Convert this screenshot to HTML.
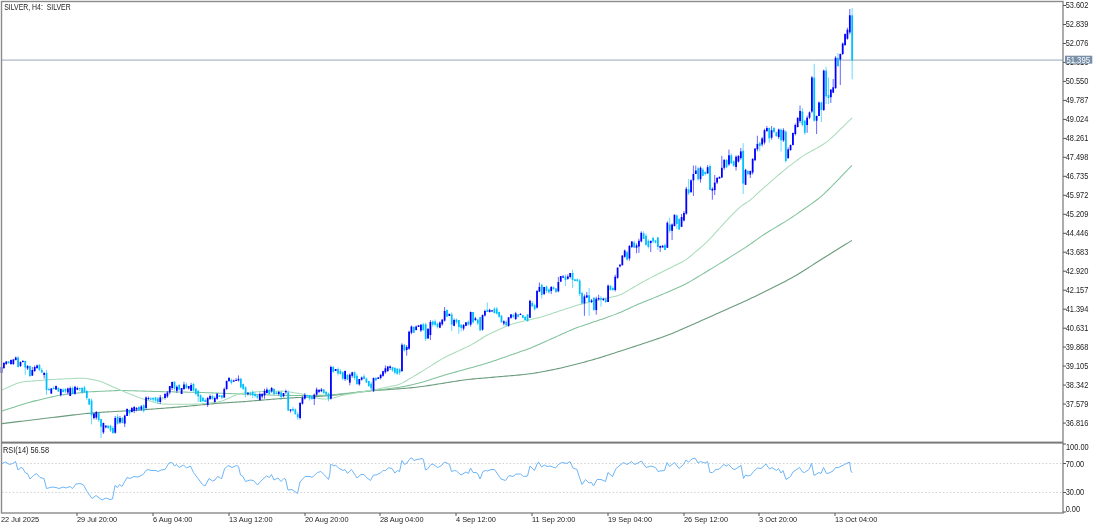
<!DOCTYPE html>
<html><head><meta charset="utf-8"><style>
html,body{margin:0;padding:0;background:#fff;width:1100px;height:527px;overflow:hidden}
svg{display:block;will-change:transform}
text{font-family:"Liberation Sans",sans-serif;font-size:8.3px;letter-spacing:0;fill:#222}
</style></head><body>
<svg width="1100" height="527" viewBox="0 0 1100 527">
<rect width="1100" height="527" fill="#fff"/>
<!-- price line -->
<rect x="2" y="59.5" width="1061" height="1.2" fill="#aab6c4"/>
<!-- MAs -->
<polyline points="2.0,423.60 4.0,423.36 6.0,423.12 8.0,422.87 10.0,422.63 12.0,422.39 14.0,422.15 16.0,421.91 18.0,421.66 20.0,421.42 22.0,421.18 24.0,420.94 26.0,420.69 28.0,420.45 30.0,420.21 32.0,419.97 34.0,419.73 36.0,419.49 38.0,419.24 40.0,419.00 42.0,418.76 44.0,418.52 46.0,418.28 48.0,418.04 50.0,417.80 52.0,417.56 54.0,417.32 56.0,417.08 58.0,416.84 60.0,416.60 62.0,416.36 64.0,416.12 66.0,415.88 68.0,415.64 70.0,415.40 72.0,415.16 74.0,414.92 76.0,414.69 78.0,414.45 80.0,414.22 82.0,414.00 84.0,413.78 86.0,413.57 88.0,413.38 90.0,413.19 92.0,413.02 94.0,412.85 96.0,412.70 98.0,412.56 100.0,412.42 102.0,412.29 104.0,412.17 106.0,412.04 108.0,411.92 110.0,411.80 112.0,411.68 114.0,411.56 116.0,411.44 118.0,411.32 120.0,411.20 122.0,411.08 124.0,410.96 126.0,410.84 128.0,410.72 130.0,410.59 132.0,410.47 134.0,410.34 136.0,410.22 138.0,410.09 140.0,409.95 142.0,409.82 144.0,409.68 146.0,409.53 148.0,409.39 150.0,409.24 152.0,409.10 154.0,408.95 156.0,408.80 158.0,408.65 160.0,408.50 162.0,408.35 164.0,408.20 166.0,408.05 168.0,407.89 170.0,407.74 172.0,407.58 174.0,407.42 176.0,407.26 178.0,407.09 180.0,406.92 182.0,406.74 184.0,406.56 186.0,406.37 188.0,406.18 190.0,405.99 192.0,405.79 194.0,405.60 196.0,405.40 198.0,405.20 200.0,405.00 202.0,404.80 204.0,404.60 206.0,404.41 208.0,404.21 210.0,404.02 212.0,403.83 214.0,403.65 216.0,403.48 218.0,403.31 220.0,403.16 222.0,403.01 224.0,402.88 226.0,402.75 228.0,402.62 230.0,402.51 232.0,402.39 234.0,402.27 236.0,402.15 238.0,402.02 240.0,401.89 242.0,401.75 244.0,401.61 246.0,401.46 248.0,401.30 250.0,401.14 252.0,400.97 254.0,400.81 256.0,400.64 258.0,400.47 260.0,400.30 262.0,400.13 264.0,399.96 266.0,399.79 268.0,399.63 270.0,399.46 272.0,399.29 274.0,399.13 276.0,398.97 278.0,398.81 280.0,398.66 282.0,398.51 284.0,398.37 286.0,398.24 288.0,398.11 290.0,397.99 292.0,397.87 294.0,397.76 296.0,397.65 298.0,397.54 300.0,397.43 302.0,397.33 304.0,397.22 306.0,397.11 308.0,397.01 310.0,396.90 312.0,396.79 314.0,396.68 316.0,396.56 318.0,396.44 320.0,396.32 322.0,396.18 324.0,396.03 326.0,395.87 328.0,395.70 330.0,395.51 332.0,395.31 334.0,395.10 336.0,394.88 338.0,394.66 340.0,394.42 342.0,394.19 344.0,393.95 346.0,393.71 348.0,393.47 350.0,393.23 352.0,392.99 354.0,392.75 356.0,392.51 358.0,392.27 360.0,392.04 362.0,391.81 364.0,391.59 366.0,391.37 368.0,391.17 370.0,390.97 372.0,390.78 374.0,390.61 376.0,390.44 378.0,390.29 380.0,390.14 382.0,389.99 384.0,389.86 386.0,389.72 388.0,389.58 390.0,389.45 392.0,389.31 394.0,389.17 396.0,389.02 398.0,388.88 400.0,388.72 402.0,388.56 404.0,388.40 406.0,388.23 408.0,388.05 410.0,387.86 412.0,387.67 414.0,387.46 416.0,387.25 418.0,387.01 420.0,386.77 422.0,386.51 424.0,386.24 426.0,385.95 428.0,385.65 430.0,385.35 432.0,385.03 434.0,384.71 436.0,384.39 438.0,384.07 440.0,383.75 442.0,383.42 444.0,383.10 446.0,382.77 448.0,382.45 450.0,382.13 452.0,381.81 454.0,381.49 456.0,381.18 458.0,380.88 460.0,380.58 462.0,380.30 464.0,380.04 466.0,379.78 468.0,379.55 470.0,379.32 472.0,379.12 474.0,378.92 476.0,378.73 478.0,378.55 480.0,378.37 482.0,378.19 484.0,378.02 486.0,377.85 488.0,377.68 490.0,377.51 492.0,377.33 494.0,377.16 496.0,376.99 498.0,376.82 500.0,376.65 502.0,376.48 504.0,376.31 506.0,376.14 508.0,375.97 510.0,375.79 512.0,375.62 514.0,375.45 516.0,375.27 518.0,375.09 520.0,374.91 522.0,374.71 524.0,374.51 526.0,374.29 528.0,374.05 530.0,373.79 532.0,373.51 534.0,373.20 536.0,372.88 538.0,372.54 540.0,372.18 542.0,371.81 544.0,371.43 546.0,371.04 548.0,370.65 550.0,370.26 552.0,369.86 554.0,369.45 556.0,369.04 558.0,368.62 560.0,368.19 562.0,367.75 564.0,367.29 566.0,366.82 568.0,366.33 570.0,365.84 572.0,365.33 574.0,364.82 576.0,364.29 578.0,363.77 580.0,363.24 582.0,362.71 584.0,362.17 586.0,361.63 588.0,361.09 590.0,360.53 592.0,359.97 594.0,359.40 596.0,358.81 598.0,358.22 600.0,357.61 602.0,356.99 604.0,356.36 606.0,355.73 608.0,355.09 610.0,354.44 612.0,353.80 614.0,353.15 616.0,352.50 618.0,351.85 620.0,351.20 622.0,350.55 624.0,349.90 626.0,349.25 628.0,348.60 630.0,347.95 632.0,347.29 634.0,346.64 636.0,345.98 638.0,345.32 640.0,344.66 642.0,344.00 644.0,343.34 646.0,342.67 648.0,342.00 650.0,341.33 652.0,340.65 654.0,339.98 656.0,339.30 658.0,338.62 660.0,337.92 662.0,337.22 664.0,336.51 666.0,335.78 668.0,335.03 670.0,334.26 672.0,333.46 674.0,332.65 676.0,331.82 678.0,330.97 680.0,330.11 682.0,329.24 684.0,328.36 686.0,327.47 688.0,326.59 690.0,325.70 692.0,324.81 694.0,323.92 696.0,323.03 698.0,322.14 700.0,321.25 702.0,320.36 704.0,319.47 706.0,318.58 708.0,317.68 710.0,316.79 712.0,315.90 714.0,315.01 716.0,314.12 718.0,313.23 720.0,312.33 722.0,311.44 724.0,310.55 726.0,309.66 728.0,308.76 730.0,307.87 732.0,306.98 734.0,306.08 736.0,305.19 738.0,304.29 740.0,303.39 742.0,302.49 744.0,301.58 746.0,300.66 748.0,299.74 750.0,298.80 752.0,297.86 754.0,296.90 756.0,295.93 758.0,294.96 760.0,293.97 762.0,292.98 764.0,291.99 766.0,291.00 768.0,290.00 770.0,289.00 772.0,288.00 774.0,287.00 776.0,286.00 778.0,284.99 780.0,283.99 782.0,282.97 784.0,281.95 786.0,280.91 788.0,279.86 790.0,278.79 792.0,277.69 794.0,276.56 796.0,275.40 798.0,274.21 800.0,273.00 802.0,271.76 804.0,270.50 806.0,269.22 808.0,267.94 810.0,266.65 812.0,265.36 814.0,264.07 816.0,262.78 818.0,261.50 820.0,260.23 822.0,258.96 824.0,257.70 826.0,256.45 828.0,255.20 830.0,253.96 832.0,252.72 834.0,251.48 836.0,250.25 838.0,249.02 840.0,247.79 842.0,246.55 844.0,245.32 846.0,244.09 848.0,242.86 850.0,241.63 852.0,240.40 852.0,240.40" fill="none" stroke="#6a9c7c" stroke-width="1.1"/>
<polyline points="2.0,411.00 4.0,410.36 6.0,409.71 8.0,409.07 10.0,408.43 12.0,407.79 14.0,407.14 16.0,406.50 18.0,405.86 20.0,405.22 22.0,404.58 24.0,403.95 26.0,403.34 28.0,402.74 30.0,402.17 32.0,401.63 34.0,401.12 36.0,400.62 38.0,400.14 40.0,399.67 42.0,399.20 44.0,398.73 46.0,398.27 48.0,397.80 50.0,397.34 52.0,396.88 54.0,396.43 56.0,396.00 58.0,395.60 60.0,395.23 62.0,394.90 64.0,394.61 66.0,394.34 68.0,394.09 70.0,393.85 72.0,393.62 74.0,393.39 76.0,393.16 78.0,392.93 80.0,392.71 82.0,392.50 84.0,392.31 86.0,392.13 88.0,391.98 90.0,391.85 92.0,391.74 94.0,391.63 96.0,391.53 98.0,391.44 100.0,391.34 102.0,391.25 104.0,391.15 106.0,391.06 108.0,390.97 110.0,390.87 112.0,390.78 114.0,390.70 116.0,390.63 118.0,390.58 120.0,390.55 122.0,390.55 124.0,390.57 126.0,390.60 128.0,390.65 130.0,390.70 132.0,390.76 134.0,390.82 136.0,390.88 138.0,390.94 140.0,391.00 142.0,391.06 144.0,391.12 146.0,391.18 148.0,391.24 150.0,391.30 152.0,391.36 154.0,391.42 156.0,391.47 158.0,391.53 160.0,391.58 162.0,391.63 164.0,391.67 166.0,391.72 168.0,391.76 170.0,391.80 172.0,391.84 174.0,391.88 176.0,391.92 178.0,391.96 180.0,392.00 182.0,392.04 184.0,392.08 186.0,392.12 188.0,392.16 190.0,392.20 192.0,392.24 194.0,392.29 196.0,392.33 198.0,392.38 200.0,392.44 202.0,392.50 204.0,392.57 206.0,392.65 208.0,392.72 210.0,392.80 212.0,392.88 214.0,392.96 216.0,393.04 218.0,393.12 220.0,393.20 222.0,393.28 224.0,393.36 226.0,393.44 228.0,393.52 230.0,393.60 232.0,393.68 234.0,393.76 236.0,393.84 238.0,393.91 240.0,393.98 242.0,394.06 244.0,394.12 246.0,394.19 248.0,394.26 250.0,394.32 252.0,394.39 254.0,394.45 256.0,394.51 258.0,394.58 260.0,394.64 262.0,394.71 264.0,394.77 266.0,394.83 268.0,394.90 270.0,394.96 272.0,395.03 274.0,395.09 276.0,395.15 278.0,395.21 280.0,395.26 282.0,395.31 284.0,395.34 286.0,395.37 288.0,395.38 290.0,395.39 292.0,395.40 294.0,395.40 296.0,395.40 298.0,395.40 300.0,395.40 302.0,395.40 304.0,395.40 306.0,395.40 308.0,395.40 310.0,395.40 312.0,395.40 314.0,395.40 316.0,395.40 318.0,395.39 320.0,395.38 322.0,395.36 324.0,395.31 326.0,395.24 328.0,395.13 330.0,394.99 332.0,394.82 334.0,394.63 336.0,394.43 338.0,394.22 340.0,394.01 342.0,393.80 344.0,393.58 346.0,393.37 348.0,393.16 350.0,392.94 352.0,392.73 354.0,392.52 356.0,392.30 358.0,392.09 360.0,391.87 362.0,391.66 364.0,391.45 366.0,391.23 368.0,391.01 370.0,390.80 372.0,390.58 374.0,390.35 376.0,390.13 378.0,389.90 380.0,389.68 382.0,389.45 384.0,389.22 386.0,388.99 388.0,388.76 390.0,388.53 392.0,388.30 394.0,388.05 396.0,387.79 398.0,387.51 400.0,387.19 402.0,386.84 404.0,386.46 406.0,386.05 408.0,385.63 410.0,385.19 412.0,384.75 414.0,384.29 416.0,383.82 418.0,383.32 420.0,382.79 422.0,382.23 424.0,381.63 426.0,381.01 428.0,380.38 430.0,379.73 432.0,379.08 434.0,378.43 436.0,377.79 438.0,377.14 440.0,376.51 442.0,375.89 444.0,375.28 446.0,374.69 448.0,374.11 450.0,373.54 452.0,372.98 454.0,372.43 456.0,371.87 458.0,371.32 460.0,370.77 462.0,370.21 464.0,369.66 466.0,369.11 468.0,368.55 470.0,368.00 472.0,367.45 474.0,366.89 476.0,366.34 478.0,365.78 480.0,365.22 482.0,364.65 484.0,364.07 486.0,363.47 488.0,362.84 490.0,362.20 492.0,361.53 494.0,360.85 496.0,360.17 498.0,359.47 500.0,358.78 502.0,358.08 504.0,357.39 506.0,356.69 508.0,356.00 510.0,355.30 512.0,354.61 514.0,353.91 516.0,353.22 518.0,352.52 520.0,351.82 522.0,351.12 524.0,350.42 526.0,349.70 528.0,348.96 530.0,348.19 532.0,347.40 534.0,346.57 536.0,345.71 538.0,344.84 540.0,343.95 542.0,343.05 544.0,342.16 546.0,341.26 548.0,340.36 550.0,339.46 552.0,338.56 554.0,337.66 556.0,336.76 558.0,335.86 560.0,334.96 562.0,334.06 564.0,333.17 566.0,332.28 568.0,331.39 570.0,330.52 572.0,329.68 574.0,328.86 576.0,328.08 578.0,327.34 580.0,326.62 582.0,325.93 584.0,325.24 586.0,324.57 588.0,323.89 590.0,323.22 592.0,322.55 594.0,321.87 596.0,321.20 598.0,320.53 600.0,319.85 602.0,319.17 604.0,318.48 606.0,317.79 608.0,317.08 610.0,316.36 612.0,315.63 614.0,314.88 616.0,314.12 618.0,313.32 620.0,312.50 622.0,311.65 624.0,310.76 626.0,309.85 628.0,308.93 630.0,308.00 632.0,307.07 634.0,306.14 636.0,305.23 638.0,304.34 640.0,303.48 642.0,302.65 644.0,301.84 646.0,301.05 648.0,300.26 650.0,299.48 652.0,298.68 654.0,297.87 656.0,297.04 658.0,296.20 660.0,295.35 662.0,294.50 664.0,293.64 666.0,292.78 668.0,291.92 670.0,291.06 672.0,290.20 674.0,289.34 676.0,288.48 678.0,287.60 680.0,286.71 682.0,285.78 684.0,284.81 686.0,283.79 688.0,282.71 690.0,281.59 692.0,280.42 694.0,279.23 696.0,278.03 698.0,276.82 700.0,275.61 702.0,274.40 704.0,273.19 706.0,271.97 708.0,270.76 710.0,269.55 712.0,268.33 714.0,267.11 716.0,265.89 718.0,264.66 720.0,263.42 722.0,262.18 724.0,260.93 726.0,259.68 728.0,258.43 730.0,257.17 732.0,255.92 734.0,254.66 736.0,253.41 738.0,252.15 740.0,250.90 742.0,249.63 744.0,248.36 746.0,247.07 748.0,245.74 750.0,244.37 752.0,242.96 754.0,241.51 756.0,240.05 758.0,238.59 760.0,237.18 762.0,235.82 764.0,234.51 766.0,233.24 768.0,232.01 770.0,230.79 772.0,229.58 774.0,228.37 776.0,227.17 778.0,225.96 780.0,224.76 782.0,223.55 784.0,222.33 786.0,221.10 788.0,219.85 790.0,218.57 792.0,217.26 794.0,215.92 796.0,214.56 798.0,213.19 800.0,211.80 802.0,210.41 804.0,209.02 806.0,207.62 808.0,206.22 810.0,204.82 812.0,203.41 814.0,201.98 816.0,200.51 818.0,198.98 820.0,197.36 822.0,195.65 824.0,193.84 826.0,191.95 828.0,190.00 830.0,188.01 832.0,186.00 834.0,183.97 836.0,181.93 838.0,179.87 840.0,177.80 842.0,175.73 844.0,173.65 846.0,171.56 848.0,169.47 850.0,167.39 852.0,165.30 852.0,165.30" fill="none" stroke="#80c29c" stroke-width="1.05"/>
<polyline points="2.0,390.00 4.0,389.11 6.0,388.22 8.0,387.33 10.0,386.44 12.0,385.56 14.0,384.67 16.0,383.82 18.0,383.05 20.0,382.43 22.0,382.00 24.0,381.72 26.0,381.53 28.0,381.36 30.0,381.20 32.0,381.04 34.0,380.88 36.0,380.72 38.0,380.56 40.0,380.40 42.0,380.24 44.0,380.08 46.0,379.92 48.0,379.77 50.0,379.64 52.0,379.52 54.0,379.42 56.0,379.32 58.0,379.22 60.0,379.13 62.0,379.04 64.0,378.94 66.0,378.85 68.0,378.75 70.0,378.66 72.0,378.56 74.0,378.47 76.0,378.38 78.0,378.29 80.0,378.22 82.0,378.20 84.0,378.28 86.0,378.48 88.0,378.78 90.0,379.13 92.0,379.50 94.0,379.88 96.0,380.28 98.0,380.74 100.0,381.31 102.0,382.02 104.0,382.83 106.0,383.71 108.0,384.60 110.0,385.50 112.0,386.40 114.0,387.30 116.0,388.19 118.0,389.08 120.0,389.94 122.0,390.78 124.0,391.59 126.0,392.40 128.0,393.20 130.0,394.00 132.0,394.80 134.0,395.60 136.0,396.39 138.0,397.16 140.0,397.88 142.0,398.56 144.0,399.19 146.0,399.80 148.0,400.40 150.0,401.00 152.0,401.60 154.0,402.19 156.0,402.77 158.0,403.28 160.0,403.67 162.0,403.92 164.0,404.05 166.0,404.11 168.0,404.16 170.0,404.20 172.0,404.24 174.0,404.28 176.0,404.32 178.0,404.34 180.0,404.35 182.0,404.34 184.0,404.32 186.0,404.28 188.0,404.24 190.0,404.20 192.0,404.16 194.0,404.12 196.0,404.07 198.0,404.00 200.0,403.91 202.0,403.76 204.0,403.59 206.0,403.40 208.0,403.20 210.0,403.00 212.0,402.80 214.0,402.59 216.0,402.36 218.0,402.05 220.0,401.60 222.0,400.97 224.0,400.20 226.0,399.35 228.0,398.48 230.0,397.60 232.0,396.72 234.0,395.85 236.0,395.00 238.0,394.24 240.0,393.62 242.0,393.19 244.0,392.90 246.0,392.70 248.0,392.52 250.0,392.35 252.0,392.18 254.0,392.01 256.0,391.85 258.0,391.70 260.0,391.58 262.0,391.49 264.0,391.42 266.0,391.37 268.0,391.33 270.0,391.29 272.0,391.25 274.0,391.20 276.0,391.16 278.0,391.12 280.0,391.11 282.0,391.14 284.0,391.25 286.0,391.46 288.0,391.74 290.0,392.05 292.0,392.38 294.0,392.71 296.0,393.04 298.0,393.37 300.0,393.70 302.0,394.05 304.0,394.44 306.0,394.89 308.0,395.41 310.0,395.98 312.0,396.57 314.0,397.17 316.0,397.75 318.0,398.26 320.0,398.64 322.0,398.87 324.0,398.96 326.0,398.96 328.0,398.87 330.0,398.64 332.0,398.26 334.0,397.74 336.0,397.17 338.0,396.58 340.0,396.01 342.0,395.51 344.0,395.07 346.0,394.68 348.0,394.32 350.0,393.97 352.0,393.62 354.0,393.27 356.0,392.92 358.0,392.57 360.0,392.22 362.0,391.87 364.0,391.52 366.0,391.17 368.0,390.82 370.0,390.46 372.0,390.08 374.0,389.69 376.0,389.30 378.0,388.90 380.0,388.50 382.0,388.10 384.0,387.70 386.0,387.30 388.0,386.90 390.0,386.50 392.0,386.10 394.0,385.69 396.0,385.25 398.0,384.73 400.0,384.03 402.0,383.14 404.0,382.07 406.0,380.92 408.0,379.74 410.0,378.55 412.0,377.36 414.0,376.17 416.0,374.98 418.0,373.78 420.0,372.56 422.0,371.33 424.0,370.09 426.0,368.84 428.0,367.58 430.0,366.33 432.0,365.07 434.0,363.82 436.0,362.57 438.0,361.32 440.0,360.08 442.0,358.89 444.0,357.78 446.0,356.74 448.0,355.77 450.0,354.83 452.0,353.90 454.0,352.97 456.0,352.04 458.0,351.11 460.0,350.18 462.0,349.25 464.0,348.32 466.0,347.39 468.0,346.44 470.0,345.45 472.0,344.39 474.0,343.24 476.0,342.02 478.0,340.76 480.0,339.48 482.0,338.21 484.0,336.96 486.0,335.78 488.0,334.68 490.0,333.68 492.0,332.74 494.0,331.82 496.0,330.91 498.0,330.00 500.0,329.09 502.0,328.18 504.0,327.28 506.0,326.40 508.0,325.58 510.0,324.83 512.0,324.17 514.0,323.56 516.0,322.97 518.0,322.42 520.0,321.89 522.0,321.40 524.0,320.95 526.0,320.51 528.0,320.08 530.0,319.65 532.0,319.22 534.0,318.79 536.0,318.35 538.0,317.88 540.0,317.36 542.0,316.78 544.0,316.15 546.0,315.49 548.0,314.82 550.0,314.15 552.0,313.48 554.0,312.81 556.0,312.14 558.0,311.47 560.0,310.81 562.0,310.15 564.0,309.50 566.0,308.85 568.0,308.20 570.0,307.55 572.0,306.90 574.0,306.25 576.0,305.61 578.0,304.99 580.0,304.42 582.0,303.89 584.0,303.40 586.0,302.94 588.0,302.48 590.0,302.03 592.0,301.57 594.0,301.12 596.0,300.67 598.0,300.21 600.0,299.76 602.0,299.30 604.0,298.85 606.0,298.40 608.0,297.95 610.0,297.50 612.0,297.05 614.0,296.61 616.0,296.13 618.0,295.58 620.0,294.86 622.0,293.96 624.0,292.90 626.0,291.75 628.0,290.58 630.0,289.40 632.0,288.22 634.0,287.04 636.0,285.87 638.0,284.70 640.0,283.56 642.0,282.45 644.0,281.36 646.0,280.29 648.0,279.22 650.0,278.15 652.0,277.10 654.0,276.07 656.0,275.04 658.0,274.03 660.0,273.02 662.0,272.01 664.0,271.00 666.0,269.99 668.0,268.99 670.0,267.98 672.0,266.97 674.0,265.97 676.0,264.98 678.0,264.00 680.0,263.02 682.0,262.00 684.0,260.89 686.0,259.61 688.0,258.14 690.0,256.53 692.0,254.85 694.0,253.15 696.0,251.44 698.0,249.73 700.0,248.03 702.0,246.31 704.0,244.56 706.0,242.74 708.0,240.80 710.0,238.74 712.0,236.58 714.0,234.38 716.0,232.17 718.0,229.96 720.0,227.75 722.0,225.54 724.0,223.34 726.0,221.17 728.0,219.04 730.0,216.95 732.0,214.89 734.0,212.85 736.0,210.84 738.0,208.92 740.0,207.17 742.0,205.63 744.0,204.25 746.0,202.96 748.0,201.65 750.0,200.24 752.0,198.65 754.0,196.88 756.0,194.99 758.0,193.05 760.0,191.16 762.0,189.33 764.0,187.56 766.0,185.82 768.0,184.09 770.0,182.36 772.0,180.63 774.0,178.90 776.0,177.17 778.0,175.45 780.0,173.73 782.0,172.03 784.0,170.36 786.0,168.75 788.0,167.18 790.0,165.64 792.0,164.11 794.0,162.58 796.0,161.05 798.0,159.54 800.0,158.06 802.0,156.65 804.0,155.36 806.0,154.16 808.0,153.02 810.0,151.91 812.0,150.81 814.0,149.70 816.0,148.59 818.0,147.46 820.0,146.29 822.0,145.05 824.0,143.72 826.0,142.31 828.0,140.81 830.0,139.19 832.0,137.43 834.0,135.56 836.0,133.63 838.0,131.68 840.0,129.73 842.0,127.77 844.0,125.82 846.0,123.86 848.0,121.91 850.0,119.95 852.0,118.00 852.0,118.00" fill="none" stroke="#a9dcbb" stroke-width="1.05"/>
<!-- candles -->
<rect x="1.00" y="366.0" width="1.0" height="9.6" fill="#0000ff" opacity="0.6"/>
<rect x="0.65" y="367.0" width="1.75" height="6.0" fill="#0000ff"/>
<rect x="3.37" y="362.0" width="1.0" height="7.0" fill="#0000ff" opacity="0.6"/>
<rect x="3.02" y="363.0" width="1.75" height="5.0" fill="#0000ff"/>
<rect x="5.74" y="361.0" width="1.0" height="4.0" fill="#0000ff" opacity="0.6"/>
<rect x="5.39" y="361.5" width="1.75" height="2.5" fill="#0000ff"/>
<rect x="8.11" y="361.0" width="1.0" height="3.0" fill="#00bfff" opacity="0.6"/>
<rect x="7.76" y="361.5" width="1.75" height="1.5" fill="#00bfff"/>
<rect x="10.48" y="359.5" width="1.0" height="5.5" fill="#0000ff" opacity="0.6"/>
<rect x="10.13" y="360.0" width="1.75" height="4.0" fill="#0000ff"/>
<rect x="12.85" y="359.0" width="1.0" height="6.0" fill="#0000ff" opacity="0.6"/>
<rect x="12.50" y="359.5" width="1.75" height="4.5" fill="#0000ff"/>
<rect x="15.22" y="356.5" width="1.0" height="4.0" fill="#0000ff" opacity="0.6"/>
<rect x="14.87" y="357.5" width="1.75" height="2.5" fill="#0000ff"/>
<rect x="17.59" y="356.0" width="1.0" height="11.5" fill="#00bfff" opacity="0.6"/>
<rect x="17.24" y="357.5" width="1.75" height="9.5" fill="#00bfff"/>
<rect x="19.96" y="361.5" width="1.0" height="5.5" fill="#0000ff" opacity="0.6"/>
<rect x="19.61" y="362.0" width="1.75" height="4.0" fill="#0000ff"/>
<rect x="22.33" y="360.0" width="1.0" height="2.5" fill="#0000ff" opacity="0.6"/>
<rect x="21.98" y="361.0" width="1.75" height="1.0" fill="#0000ff"/>
<rect x="24.70" y="360.5" width="1.0" height="14.2" fill="#00bfff" opacity="0.6"/>
<rect x="24.34" y="361.0" width="1.75" height="6.5" fill="#00bfff"/>
<rect x="27.06" y="365.0" width="1.0" height="5.0" fill="#0000ff" opacity="0.6"/>
<rect x="26.71" y="366.0" width="1.75" height="2.5" fill="#0000ff"/>
<rect x="29.43" y="365.5" width="1.0" height="11.5" fill="#00bfff" opacity="0.6"/>
<rect x="29.08" y="366.0" width="1.75" height="10.0" fill="#00bfff"/>
<rect x="31.80" y="367.0" width="1.0" height="9.0" fill="#0000ff" opacity="0.6"/>
<rect x="31.45" y="370.0" width="1.75" height="5.6" fill="#0000ff"/>
<rect x="34.17" y="365.5" width="1.0" height="6.5" fill="#0000ff" opacity="0.6"/>
<rect x="33.82" y="367.0" width="1.75" height="4.0" fill="#0000ff"/>
<rect x="36.54" y="364.5" width="1.0" height="4.5" fill="#0000ff" opacity="0.6"/>
<rect x="36.19" y="365.5" width="1.75" height="2.5" fill="#0000ff"/>
<rect x="38.91" y="364.0" width="1.0" height="7.0" fill="#00bfff" opacity="0.6"/>
<rect x="38.56" y="365.0" width="1.75" height="5.0" fill="#00bfff"/>
<rect x="41.28" y="368.0" width="1.0" height="5.0" fill="#00bfff" opacity="0.6"/>
<rect x="40.93" y="370.0" width="1.75" height="2.5" fill="#00bfff"/>
<rect x="43.65" y="371.8" width="1.0" height="6.7" fill="#0000ff" opacity="0.6"/>
<rect x="43.30" y="373.0" width="1.75" height="2.0" fill="#0000ff"/>
<rect x="46.02" y="370.0" width="1.0" height="25.0" fill="#00bfff" opacity="0.6"/>
<rect x="45.67" y="373.0" width="1.75" height="17.0" fill="#00bfff"/>
<rect x="48.39" y="387.5" width="1.0" height="3.5" fill="#00bfff" opacity="0.6"/>
<rect x="48.04" y="389.0" width="1.75" height="1.0" fill="#00bfff"/>
<rect x="50.76" y="388.0" width="1.0" height="6.0" fill="#0000ff" opacity="0.6"/>
<rect x="50.41" y="388.5" width="1.75" height="5.0" fill="#0000ff"/>
<rect x="53.13" y="386.5" width="1.0" height="3.0" fill="#00bfff" opacity="0.6"/>
<rect x="52.78" y="388.0" width="1.75" height="1.0" fill="#00bfff"/>
<rect x="55.50" y="385.5" width="1.0" height="4.5" fill="#0000ff" opacity="0.6"/>
<rect x="55.15" y="386.0" width="1.75" height="3.5" fill="#0000ff"/>
<rect x="57.87" y="387.0" width="1.0" height="5.0" fill="#00bfff" opacity="0.6"/>
<rect x="57.52" y="388.0" width="1.75" height="3.5" fill="#00bfff"/>
<rect x="60.24" y="388.5" width="1.0" height="8.0" fill="#0000ff" opacity="0.6"/>
<rect x="59.89" y="389.0" width="1.75" height="6.0" fill="#0000ff"/>
<rect x="62.61" y="388.2" width="1.0" height="4.3" fill="#00bfff" opacity="0.6"/>
<rect x="62.26" y="389.7" width="1.75" height="2.3" fill="#00bfff"/>
<rect x="64.98" y="388.0" width="1.0" height="4.9" fill="#00bfff" opacity="0.6"/>
<rect x="64.63" y="389.0" width="1.75" height="2.4" fill="#00bfff"/>
<rect x="67.35" y="387.5" width="1.0" height="7.0" fill="#0000ff" opacity="0.6"/>
<rect x="67.00" y="388.5" width="1.75" height="4.0" fill="#0000ff"/>
<rect x="69.72" y="386.5" width="1.0" height="9.5" fill="#0000ff" opacity="0.6"/>
<rect x="69.37" y="388.0" width="1.75" height="8.0" fill="#0000ff"/>
<rect x="72.08" y="386.5" width="1.0" height="7.5" fill="#00bfff" opacity="0.6"/>
<rect x="71.73" y="388.0" width="1.75" height="6.0" fill="#00bfff"/>
<rect x="74.45" y="385.8" width="1.0" height="8.9" fill="#0000ff" opacity="0.6"/>
<rect x="74.10" y="386.8" width="1.75" height="6.9" fill="#0000ff"/>
<rect x="76.82" y="386.5" width="1.0" height="3.7" fill="#0000ff" opacity="0.6"/>
<rect x="76.47" y="388.0" width="1.75" height="1.7" fill="#0000ff"/>
<rect x="79.19" y="387.5" width="1.0" height="3.5" fill="#00bfff" opacity="0.6"/>
<rect x="78.84" y="388.0" width="1.75" height="1.0" fill="#00bfff"/>
<rect x="81.56" y="387.0" width="1.0" height="7.0" fill="#00bfff" opacity="0.6"/>
<rect x="81.21" y="388.0" width="1.75" height="4.5" fill="#00bfff"/>
<rect x="83.93" y="385.9" width="1.0" height="7.1" fill="#00bfff" opacity="0.6"/>
<rect x="83.58" y="387.4" width="1.75" height="4.6" fill="#00bfff"/>
<rect x="86.30" y="390.0" width="1.0" height="10.0" fill="#00bfff" opacity="0.6"/>
<rect x="85.95" y="391.0" width="1.75" height="7.0" fill="#00bfff"/>
<rect x="88.67" y="398.3" width="1.0" height="6.7" fill="#00bfff" opacity="0.6"/>
<rect x="88.32" y="398.8" width="1.75" height="5.7" fill="#00bfff"/>
<rect x="91.04" y="398.5" width="1.0" height="25.9" fill="#00bfff" opacity="0.6"/>
<rect x="90.69" y="400.5" width="1.75" height="14.8" fill="#00bfff"/>
<rect x="93.41" y="413.1" width="1.0" height="6.4" fill="#0000ff" opacity="0.6"/>
<rect x="93.06" y="413.6" width="1.75" height="4.4" fill="#0000ff"/>
<rect x="95.78" y="411.0" width="1.0" height="8.6" fill="#0000ff" opacity="0.6"/>
<rect x="95.43" y="412.0" width="1.75" height="5.6" fill="#0000ff"/>
<rect x="98.15" y="413.0" width="1.0" height="9.0" fill="#00bfff" opacity="0.6"/>
<rect x="97.80" y="413.0" width="1.75" height="7.0" fill="#00bfff"/>
<rect x="100.52" y="419.0" width="1.0" height="19.0" fill="#00bfff" opacity="0.6"/>
<rect x="100.17" y="419.0" width="1.75" height="7.7" fill="#00bfff"/>
<rect x="102.89" y="422.5" width="1.0" height="11.4" fill="#0000ff" opacity="0.6"/>
<rect x="102.54" y="423.0" width="1.75" height="9.4" fill="#0000ff"/>
<rect x="105.26" y="425.6" width="1.0" height="2.7" fill="#0000ff" opacity="0.6"/>
<rect x="104.91" y="425.6" width="1.75" height="1.7" fill="#0000ff"/>
<rect x="107.63" y="425.6" width="1.0" height="3.4" fill="#00bfff" opacity="0.6"/>
<rect x="107.28" y="425.6" width="1.75" height="2.4" fill="#00bfff"/>
<rect x="110.00" y="424.8" width="1.0" height="7.2" fill="#00bfff" opacity="0.6"/>
<rect x="109.65" y="425.8" width="1.75" height="4.7" fill="#00bfff"/>
<rect x="112.37" y="426.0" width="1.0" height="8.0" fill="#00bfff" opacity="0.6"/>
<rect x="112.02" y="428.0" width="1.75" height="5.0" fill="#00bfff"/>
<rect x="114.74" y="416.0" width="1.0" height="17.7" fill="#0000ff" opacity="0.6"/>
<rect x="114.39" y="418.0" width="1.75" height="14.7" fill="#0000ff"/>
<rect x="117.11" y="414.4" width="1.0" height="10.2" fill="#00bfff" opacity="0.6"/>
<rect x="116.76" y="416.7" width="1.75" height="6.9" fill="#00bfff"/>
<rect x="119.47" y="416.0" width="1.0" height="7.9" fill="#0000ff" opacity="0.6"/>
<rect x="119.12" y="418.0" width="1.75" height="4.4" fill="#0000ff"/>
<rect x="121.84" y="417.0" width="1.0" height="6.5" fill="#00bfff" opacity="0.6"/>
<rect x="121.49" y="418.0" width="1.75" height="5.0" fill="#00bfff"/>
<rect x="124.21" y="414.6" width="1.0" height="12.4" fill="#0000ff" opacity="0.6"/>
<rect x="123.86" y="415.6" width="1.75" height="8.0" fill="#0000ff"/>
<rect x="126.58" y="408.8" width="1.0" height="7.2" fill="#0000ff" opacity="0.6"/>
<rect x="126.23" y="408.8" width="1.75" height="7.2" fill="#0000ff"/>
<rect x="128.95" y="409.5" width="1.0" height="6.1" fill="#00bfff" opacity="0.6"/>
<rect x="128.60" y="410.0" width="1.75" height="3.3" fill="#00bfff"/>
<rect x="131.32" y="407.0" width="1.0" height="5.5" fill="#0000ff" opacity="0.6"/>
<rect x="130.97" y="408.0" width="1.75" height="4.0" fill="#0000ff"/>
<rect x="133.69" y="406.0" width="1.0" height="7.0" fill="#0000ff" opacity="0.6"/>
<rect x="133.34" y="407.0" width="1.75" height="4.0" fill="#0000ff"/>
<rect x="136.06" y="407.0" width="1.0" height="4.3" fill="#0000ff" opacity="0.6"/>
<rect x="135.71" y="408.0" width="1.75" height="1.3" fill="#0000ff"/>
<rect x="138.43" y="406.0" width="1.0" height="5.0" fill="#00bfff" opacity="0.6"/>
<rect x="138.08" y="407.0" width="1.75" height="3.0" fill="#00bfff"/>
<rect x="140.80" y="405.0" width="1.0" height="6.0" fill="#0000ff" opacity="0.6"/>
<rect x="140.45" y="406.5" width="1.75" height="2.8" fill="#0000ff"/>
<rect x="143.17" y="404.3" width="1.0" height="8.2" fill="#00bfff" opacity="0.6"/>
<rect x="142.82" y="405.3" width="1.75" height="5.7" fill="#00bfff"/>
<rect x="145.54" y="396.4" width="1.0" height="13.1" fill="#0000ff" opacity="0.6"/>
<rect x="145.19" y="397.4" width="1.75" height="10.6" fill="#0000ff"/>
<rect x="147.91" y="396.5" width="1.0" height="3.5" fill="#0000ff" opacity="0.6"/>
<rect x="147.56" y="398.0" width="1.75" height="1.0" fill="#0000ff"/>
<rect x="150.28" y="397.0" width="1.0" height="3.1" fill="#00bfff" opacity="0.6"/>
<rect x="149.93" y="398.5" width="1.75" height="1.1" fill="#00bfff"/>
<rect x="152.65" y="397.0" width="1.0" height="4.6" fill="#00bfff" opacity="0.6"/>
<rect x="152.30" y="398.0" width="1.75" height="1.6" fill="#00bfff"/>
<rect x="155.02" y="397.4" width="1.0" height="4.4" fill="#00bfff" opacity="0.6"/>
<rect x="154.67" y="397.4" width="1.75" height="3.4" fill="#00bfff"/>
<rect x="157.39" y="397.0" width="1.0" height="7.0" fill="#00bfff" opacity="0.6"/>
<rect x="157.04" y="398.5" width="1.75" height="3.5" fill="#00bfff"/>
<rect x="159.76" y="395.0" width="1.0" height="9.0" fill="#0000ff" opacity="0.6"/>
<rect x="159.41" y="397.4" width="1.75" height="4.6" fill="#0000ff"/>
<rect x="162.13" y="396.9" width="1.0" height="3.6" fill="#7fe07f" opacity="0.6"/>
<rect x="161.78" y="397.4" width="1.75" height="1.1" fill="#7fe07f"/>
<rect x="164.50" y="393.0" width="1.0" height="6.5" fill="#0000ff" opacity="0.6"/>
<rect x="164.15" y="394.0" width="1.75" height="4.0" fill="#0000ff"/>
<rect x="166.87" y="391.0" width="1.0" height="7.0" fill="#0000ff" opacity="0.6"/>
<rect x="166.52" y="392.5" width="1.75" height="4.0" fill="#0000ff"/>
<rect x="169.23" y="386.0" width="1.0" height="8.5" fill="#0000ff" opacity="0.6"/>
<rect x="168.88" y="386.0" width="1.75" height="6.5" fill="#0000ff"/>
<rect x="171.60" y="381.5" width="1.0" height="8.5" fill="#0000ff" opacity="0.6"/>
<rect x="171.25" y="382.0" width="1.75" height="6.0" fill="#0000ff"/>
<rect x="173.97" y="381.2" width="1.0" height="9.3" fill="#00bfff" opacity="0.6"/>
<rect x="173.62" y="381.7" width="1.75" height="6.8" fill="#00bfff"/>
<rect x="176.34" y="385.3" width="1.0" height="7.7" fill="#0000ff" opacity="0.6"/>
<rect x="175.99" y="386.8" width="1.75" height="4.0" fill="#0000ff"/>
<rect x="178.71" y="384.0" width="1.0" height="6.6" fill="#00bfff" opacity="0.6"/>
<rect x="178.36" y="385.0" width="1.75" height="4.6" fill="#00bfff"/>
<rect x="181.08" y="388.0" width="1.0" height="6.0" fill="#0000ff" opacity="0.6"/>
<rect x="180.73" y="388.0" width="1.75" height="6.0" fill="#0000ff"/>
<rect x="183.45" y="381.7" width="1.0" height="8.3" fill="#0000ff" opacity="0.6"/>
<rect x="183.10" y="384.5" width="1.75" height="4.5" fill="#0000ff"/>
<rect x="185.82" y="382.5" width="1.0" height="6.5" fill="#00bfff" opacity="0.6"/>
<rect x="185.47" y="384.5" width="1.75" height="3.5" fill="#00bfff"/>
<rect x="188.19" y="386.0" width="1.0" height="3.5" fill="#0000ff" opacity="0.6"/>
<rect x="187.84" y="386.0" width="1.75" height="2.5" fill="#0000ff"/>
<rect x="190.56" y="382.8" width="1.0" height="8.0" fill="#0000ff" opacity="0.6"/>
<rect x="190.21" y="385.0" width="1.75" height="5.8" fill="#0000ff"/>
<rect x="192.93" y="383.0" width="1.0" height="8.3" fill="#00bfff" opacity="0.6"/>
<rect x="192.58" y="384.0" width="1.75" height="6.8" fill="#00bfff"/>
<rect x="195.30" y="388.5" width="1.0" height="6.5" fill="#00bfff" opacity="0.6"/>
<rect x="194.95" y="388.5" width="1.75" height="5.5" fill="#00bfff"/>
<rect x="197.67" y="389.8" width="1.0" height="12.2" fill="#00bfff" opacity="0.6"/>
<rect x="197.32" y="390.8" width="1.75" height="5.7" fill="#00bfff"/>
<rect x="200.04" y="394.3" width="1.0" height="7.7" fill="#00bfff" opacity="0.6"/>
<rect x="199.69" y="395.3" width="1.75" height="6.7" fill="#00bfff"/>
<rect x="202.41" y="397.6" width="1.0" height="4.9" fill="#00bfff" opacity="0.6"/>
<rect x="202.06" y="397.6" width="1.75" height="3.4" fill="#00bfff"/>
<rect x="204.78" y="398.5" width="1.0" height="3.5" fill="#00bfff" opacity="0.6"/>
<rect x="204.43" y="400.0" width="1.75" height="2.0" fill="#00bfff"/>
<rect x="207.15" y="397.0" width="1.0" height="10.0" fill="#0000ff" opacity="0.6"/>
<rect x="206.80" y="398.0" width="1.75" height="7.0" fill="#0000ff"/>
<rect x="209.52" y="394.5" width="1.0" height="5.5" fill="#0000ff" opacity="0.6"/>
<rect x="209.17" y="396.0" width="1.75" height="3.0" fill="#0000ff"/>
<rect x="211.89" y="394.5" width="1.0" height="5.3" fill="#00bfff" opacity="0.6"/>
<rect x="211.54" y="396.0" width="1.75" height="2.8" fill="#00bfff"/>
<rect x="214.25" y="396.5" width="1.0" height="6.0" fill="#0000ff" opacity="0.6"/>
<rect x="213.91" y="398.0" width="1.75" height="4.0" fill="#0000ff"/>
<rect x="216.62" y="393.6" width="1.0" height="6.2" fill="#0000ff" opacity="0.6"/>
<rect x="216.27" y="393.6" width="1.75" height="5.2" fill="#0000ff"/>
<rect x="218.99" y="395.3" width="1.0" height="1.7" fill="#00bfff" opacity="0.6"/>
<rect x="218.64" y="395.3" width="1.75" height="1.7" fill="#00bfff"/>
<rect x="221.36" y="395.3" width="1.0" height="3.8" fill="#00bfff" opacity="0.6"/>
<rect x="221.01" y="395.3" width="1.75" height="2.3" fill="#00bfff"/>
<rect x="223.73" y="387.5" width="1.0" height="10.1" fill="#0000ff" opacity="0.6"/>
<rect x="223.38" y="389.0" width="1.75" height="8.6" fill="#0000ff"/>
<rect x="226.10" y="380.5" width="1.0" height="9.5" fill="#0000ff" opacity="0.6"/>
<rect x="225.75" y="381.0" width="1.75" height="8.0" fill="#0000ff"/>
<rect x="228.47" y="377.0" width="1.0" height="5.0" fill="#0000ff" opacity="0.6"/>
<rect x="228.12" y="378.0" width="1.75" height="3.0" fill="#0000ff"/>
<rect x="230.84" y="378.5" width="1.0" height="6.0" fill="#00bfff" opacity="0.6"/>
<rect x="230.49" y="380.0" width="1.75" height="2.8" fill="#00bfff"/>
<rect x="233.21" y="379.5" width="1.0" height="2.6" fill="#0000ff" opacity="0.6"/>
<rect x="232.86" y="380.5" width="1.75" height="1.1" fill="#0000ff"/>
<rect x="235.58" y="378.0" width="1.0" height="3.0" fill="#0000ff" opacity="0.6"/>
<rect x="235.23" y="380.0" width="1.75" height="1.0" fill="#0000ff"/>
<rect x="237.95" y="375.4" width="1.0" height="6.1" fill="#0000ff" opacity="0.6"/>
<rect x="237.60" y="378.8" width="1.75" height="1.7" fill="#0000ff"/>
<rect x="240.32" y="377.8" width="1.0" height="10.5" fill="#00bfff" opacity="0.6"/>
<rect x="239.97" y="378.8" width="1.75" height="8.5" fill="#00bfff"/>
<rect x="242.69" y="383.5" width="1.0" height="6.5" fill="#00bfff" opacity="0.6"/>
<rect x="242.34" y="384.0" width="1.75" height="5.0" fill="#00bfff"/>
<rect x="245.06" y="386.3" width="1.0" height="11.3" fill="#00bfff" opacity="0.6"/>
<rect x="244.71" y="387.3" width="1.75" height="6.7" fill="#00bfff"/>
<rect x="247.43" y="392.0" width="1.0" height="3.5" fill="#0000ff" opacity="0.6"/>
<rect x="247.08" y="393.0" width="1.75" height="1.0" fill="#0000ff"/>
<rect x="249.80" y="392.0" width="1.0" height="4.0" fill="#00bfff" opacity="0.6"/>
<rect x="249.45" y="393.0" width="1.75" height="1.0" fill="#00bfff"/>
<rect x="252.17" y="390.5" width="1.0" height="7.5" fill="#00bfff" opacity="0.6"/>
<rect x="251.82" y="392.0" width="1.75" height="3.3" fill="#00bfff"/>
<rect x="254.54" y="392.0" width="1.0" height="5.5" fill="#00bfff" opacity="0.6"/>
<rect x="254.19" y="394.0" width="1.75" height="2.0" fill="#00bfff"/>
<rect x="256.91" y="395.3" width="1.0" height="3.8" fill="#00bfff" opacity="0.6"/>
<rect x="256.56" y="395.3" width="1.75" height="2.3" fill="#00bfff"/>
<rect x="259.28" y="392.5" width="1.0" height="8.5" fill="#0000ff" opacity="0.6"/>
<rect x="258.93" y="394.0" width="1.75" height="6.0" fill="#0000ff"/>
<rect x="261.64" y="393.0" width="1.0" height="5.5" fill="#0000ff" opacity="0.6"/>
<rect x="261.29" y="394.0" width="1.75" height="2.5" fill="#0000ff"/>
<rect x="264.01" y="388.8" width="1.0" height="9.9" fill="#0000ff" opacity="0.6"/>
<rect x="263.66" y="390.8" width="1.75" height="4.5" fill="#0000ff"/>
<rect x="266.38" y="387.6" width="1.0" height="5.9" fill="#0000ff" opacity="0.6"/>
<rect x="266.03" y="389.6" width="1.75" height="3.4" fill="#0000ff"/>
<rect x="268.75" y="389.0" width="1.0" height="6.0" fill="#00bfff" opacity="0.6"/>
<rect x="268.40" y="390.0" width="1.75" height="4.0" fill="#00bfff"/>
<rect x="271.12" y="387.0" width="1.0" height="5.8" fill="#0000ff" opacity="0.6"/>
<rect x="270.77" y="388.0" width="1.75" height="3.3" fill="#0000ff"/>
<rect x="273.49" y="388.0" width="1.0" height="7.5" fill="#00bfff" opacity="0.6"/>
<rect x="273.14" y="389.0" width="1.75" height="5.0" fill="#00bfff"/>
<rect x="275.86" y="391.5" width="1.0" height="2.5" fill="#00bfff" opacity="0.6"/>
<rect x="275.51" y="392.5" width="1.75" height="1.5" fill="#00bfff"/>
<rect x="278.23" y="391.0" width="1.0" height="4.5" fill="#0000ff" opacity="0.6"/>
<rect x="277.88" y="392.0" width="1.75" height="2.0" fill="#0000ff"/>
<rect x="280.60" y="391.3" width="1.0" height="8.7" fill="#00bfff" opacity="0.6"/>
<rect x="280.25" y="392.3" width="1.75" height="4.7" fill="#00bfff"/>
<rect x="282.97" y="393.0" width="1.0" height="4.3" fill="#0000ff" opacity="0.6"/>
<rect x="282.62" y="393.0" width="1.75" height="3.3" fill="#0000ff"/>
<rect x="285.34" y="389.5" width="1.0" height="4.3" fill="#0000ff" opacity="0.6"/>
<rect x="284.99" y="391.0" width="1.75" height="1.3" fill="#0000ff"/>
<rect x="287.71" y="390.3" width="1.0" height="20.8" fill="#00bfff" opacity="0.6"/>
<rect x="287.36" y="392.3" width="1.75" height="18.3" fill="#00bfff"/>
<rect x="290.08" y="409.4" width="1.0" height="3.2" fill="#0000ff" opacity="0.6"/>
<rect x="289.73" y="409.4" width="1.75" height="1.2" fill="#0000ff"/>
<rect x="292.45" y="406.8" width="1.0" height="4.8" fill="#00bfff" opacity="0.6"/>
<rect x="292.10" y="408.8" width="1.75" height="1.8" fill="#00bfff"/>
<rect x="294.82" y="408.4" width="1.0" height="6.6" fill="#00bfff" opacity="0.6"/>
<rect x="294.47" y="409.4" width="1.75" height="4.6" fill="#00bfff"/>
<rect x="297.19" y="412.0" width="1.0" height="7.7" fill="#00bfff" opacity="0.6"/>
<rect x="296.84" y="414.0" width="1.75" height="3.4" fill="#00bfff"/>
<rect x="299.56" y="402.0" width="1.0" height="17.5" fill="#0000ff" opacity="0.6"/>
<rect x="299.21" y="403.0" width="1.75" height="15.0" fill="#0000ff"/>
<rect x="301.93" y="396.0" width="1.0" height="8.7" fill="#0000ff" opacity="0.6"/>
<rect x="301.58" y="398.0" width="1.75" height="5.7" fill="#0000ff"/>
<rect x="304.30" y="393.0" width="1.0" height="6.6" fill="#0000ff" opacity="0.6"/>
<rect x="303.95" y="395.0" width="1.75" height="3.6" fill="#0000ff"/>
<rect x="306.67" y="395.0" width="1.0" height="2.5" fill="#00bfff" opacity="0.6"/>
<rect x="306.32" y="395.0" width="1.75" height="1.0" fill="#00bfff"/>
<rect x="309.03" y="395.0" width="1.0" height="5.6" fill="#00bfff" opacity="0.6"/>
<rect x="308.68" y="395.0" width="1.75" height="3.6" fill="#00bfff"/>
<rect x="311.40" y="396.3" width="1.0" height="3.7" fill="#00bfff" opacity="0.6"/>
<rect x="311.05" y="396.3" width="1.75" height="2.7" fill="#00bfff"/>
<rect x="313.77" y="393.6" width="1.0" height="11.4" fill="#0000ff" opacity="0.6"/>
<rect x="313.42" y="394.6" width="1.75" height="4.4" fill="#0000ff"/>
<rect x="316.14" y="387.5" width="1.0" height="8.1" fill="#0000ff" opacity="0.6"/>
<rect x="315.79" y="389.5" width="1.75" height="5.1" fill="#0000ff"/>
<rect x="318.51" y="389.0" width="1.0" height="4.3" fill="#0000ff" opacity="0.6"/>
<rect x="318.16" y="390.0" width="1.75" height="1.8" fill="#0000ff"/>
<rect x="320.88" y="388.0" width="1.0" height="4.2" fill="#0000ff" opacity="0.6"/>
<rect x="320.53" y="389.5" width="1.75" height="1.7" fill="#0000ff"/>
<rect x="323.25" y="389.0" width="1.0" height="5.0" fill="#00bfff" opacity="0.6"/>
<rect x="322.90" y="389.5" width="1.75" height="3.5" fill="#00bfff"/>
<rect x="325.62" y="391.3" width="1.0" height="4.3" fill="#00bfff" opacity="0.6"/>
<rect x="325.27" y="391.8" width="1.75" height="2.8" fill="#00bfff"/>
<rect x="327.99" y="392.5" width="1.0" height="8.9" fill="#00bfff" opacity="0.6"/>
<rect x="327.64" y="393.5" width="1.75" height="5.1" fill="#00bfff"/>
<rect x="330.36" y="365.5" width="1.0" height="34.1" fill="#0000ff" opacity="0.6"/>
<rect x="330.01" y="367.0" width="1.75" height="31.6" fill="#0000ff"/>
<rect x="332.73" y="366.0" width="1.0" height="6.8" fill="#00bfff" opacity="0.6"/>
<rect x="332.38" y="367.0" width="1.75" height="4.8" fill="#00bfff"/>
<rect x="335.10" y="369.0" width="1.0" height="2.0" fill="#0000ff" opacity="0.6"/>
<rect x="334.75" y="369.0" width="1.75" height="2.0" fill="#0000ff"/>
<rect x="337.47" y="367.5" width="1.0" height="8.0" fill="#00bfff" opacity="0.6"/>
<rect x="337.12" y="369.0" width="1.75" height="4.5" fill="#00bfff"/>
<rect x="339.84" y="369.0" width="1.0" height="5.5" fill="#00bfff" opacity="0.6"/>
<rect x="339.49" y="371.0" width="1.75" height="3.0" fill="#00bfff"/>
<rect x="342.21" y="371.3" width="1.0" height="8.8" fill="#00bfff" opacity="0.6"/>
<rect x="341.86" y="372.3" width="1.75" height="6.3" fill="#00bfff"/>
<rect x="344.58" y="370.5" width="1.0" height="10.5" fill="#0000ff" opacity="0.6"/>
<rect x="344.23" y="371.0" width="1.75" height="8.0" fill="#0000ff"/>
<rect x="346.95" y="374.0" width="1.0" height="6.2" fill="#00bfff" opacity="0.6"/>
<rect x="346.60" y="375.0" width="1.75" height="4.7" fill="#00bfff"/>
<rect x="349.32" y="373.6" width="1.0" height="11.8" fill="#0000ff" opacity="0.6"/>
<rect x="348.97" y="374.6" width="1.75" height="8.0" fill="#0000ff"/>
<rect x="351.69" y="371.8" width="1.0" height="6.0" fill="#0000ff" opacity="0.6"/>
<rect x="351.34" y="372.3" width="1.75" height="3.5" fill="#0000ff"/>
<rect x="354.06" y="371.3" width="1.0" height="8.7" fill="#00bfff" opacity="0.6"/>
<rect x="353.71" y="372.3" width="1.75" height="5.7" fill="#00bfff"/>
<rect x="356.43" y="373.8" width="1.0" height="10.5" fill="#00bfff" opacity="0.6"/>
<rect x="356.07" y="375.8" width="1.75" height="8.5" fill="#00bfff"/>
<rect x="358.79" y="379.0" width="1.0" height="6.8" fill="#0000ff" opacity="0.6"/>
<rect x="358.44" y="379.0" width="1.75" height="5.3" fill="#0000ff"/>
<rect x="361.16" y="376.5" width="1.0" height="4.2" fill="#0000ff" opacity="0.6"/>
<rect x="360.81" y="377.5" width="1.75" height="2.2" fill="#0000ff"/>
<rect x="363.53" y="374.3" width="1.0" height="5.2" fill="#00bfff" opacity="0.6"/>
<rect x="363.18" y="376.3" width="1.75" height="2.7" fill="#00bfff"/>
<rect x="365.90" y="377.6" width="1.0" height="5.5" fill="#00bfff" opacity="0.6"/>
<rect x="365.55" y="378.6" width="1.75" height="4.0" fill="#00bfff"/>
<rect x="368.27" y="381.0" width="1.0" height="6.0" fill="#00bfff" opacity="0.6"/>
<rect x="367.92" y="381.0" width="1.75" height="5.0" fill="#00bfff"/>
<rect x="370.64" y="381.7" width="1.0" height="8.6" fill="#00bfff" opacity="0.6"/>
<rect x="370.29" y="383.7" width="1.75" height="4.6" fill="#00bfff"/>
<rect x="373.01" y="377.5" width="1.0" height="14.6" fill="#0000ff" opacity="0.6"/>
<rect x="372.66" y="378.0" width="1.75" height="12.6" fill="#0000ff"/>
<rect x="375.38" y="377.0" width="1.0" height="4.3" fill="#00bfff" opacity="0.6"/>
<rect x="375.03" y="378.0" width="1.75" height="2.3" fill="#00bfff"/>
<rect x="377.75" y="377.0" width="1.0" height="2.0" fill="#0000ff" opacity="0.6"/>
<rect x="377.40" y="377.5" width="1.75" height="1.5" fill="#0000ff"/>
<rect x="380.12" y="374.6" width="1.0" height="4.9" fill="#0000ff" opacity="0.6"/>
<rect x="379.77" y="374.6" width="1.75" height="3.4" fill="#0000ff"/>
<rect x="382.49" y="370.7" width="1.0" height="6.1" fill="#0000ff" opacity="0.6"/>
<rect x="382.14" y="371.2" width="1.75" height="4.6" fill="#0000ff"/>
<rect x="384.86" y="365.5" width="1.0" height="8.3" fill="#0000ff" opacity="0.6"/>
<rect x="384.51" y="368.3" width="1.75" height="4.0" fill="#0000ff"/>
<rect x="387.23" y="366.0" width="1.0" height="6.0" fill="#0000ff" opacity="0.6"/>
<rect x="386.88" y="366.5" width="1.75" height="4.5" fill="#0000ff"/>
<rect x="389.60" y="365.4" width="1.0" height="4.6" fill="#0000ff" opacity="0.6"/>
<rect x="389.25" y="366.4" width="1.75" height="1.6" fill="#0000ff"/>
<rect x="391.97" y="367.0" width="1.0" height="4.9" fill="#00bfff" opacity="0.6"/>
<rect x="391.62" y="367.0" width="1.75" height="3.4" fill="#00bfff"/>
<rect x="394.34" y="367.0" width="1.0" height="7.2" fill="#00bfff" opacity="0.6"/>
<rect x="393.99" y="368.0" width="1.75" height="4.7" fill="#00bfff"/>
<rect x="396.71" y="368.2" width="1.0" height="6.6" fill="#00bfff" opacity="0.6"/>
<rect x="396.36" y="368.7" width="1.75" height="5.1" fill="#00bfff"/>
<rect x="399.08" y="368.3" width="1.0" height="6.7" fill="#00bfff" opacity="0.6"/>
<rect x="398.73" y="369.3" width="1.75" height="3.4" fill="#00bfff"/>
<rect x="401.45" y="343.3" width="1.0" height="28.7" fill="#0000ff" opacity="0.6"/>
<rect x="401.10" y="344.8" width="1.75" height="26.2" fill="#0000ff"/>
<rect x="403.81" y="343.8" width="1.0" height="7.7" fill="#00bfff" opacity="0.6"/>
<rect x="403.46" y="344.8" width="1.75" height="5.7" fill="#00bfff"/>
<rect x="406.18" y="345.0" width="1.0" height="10.6" fill="#0000ff" opacity="0.6"/>
<rect x="405.83" y="347.0" width="1.75" height="3.0" fill="#0000ff"/>
<rect x="408.55" y="330.7" width="1.0" height="19.0" fill="#0000ff" opacity="0.6"/>
<rect x="408.20" y="331.7" width="1.75" height="17.0" fill="#0000ff"/>
<rect x="410.92" y="325.5" width="1.0" height="8.8" fill="#0000ff" opacity="0.6"/>
<rect x="410.57" y="326.5" width="1.75" height="6.3" fill="#0000ff"/>
<rect x="413.29" y="326.0" width="1.0" height="6.8" fill="#00bfff" opacity="0.6"/>
<rect x="412.94" y="327.0" width="1.75" height="5.8" fill="#00bfff"/>
<rect x="415.66" y="325.5" width="1.0" height="5.0" fill="#0000ff" opacity="0.6"/>
<rect x="415.31" y="326.5" width="1.75" height="3.5" fill="#0000ff"/>
<rect x="418.03" y="324.9" width="1.0" height="2.1" fill="#0000ff" opacity="0.6"/>
<rect x="417.68" y="325.4" width="1.75" height="1.6" fill="#0000ff"/>
<rect x="420.40" y="323.8" width="1.0" height="8.2" fill="#0000ff" opacity="0.6"/>
<rect x="420.05" y="324.8" width="1.75" height="5.7" fill="#0000ff"/>
<rect x="422.77" y="322.8" width="1.0" height="8.2" fill="#00bfff" opacity="0.6"/>
<rect x="422.42" y="324.3" width="1.75" height="5.7" fill="#00bfff"/>
<rect x="425.14" y="322.8" width="1.0" height="18.2" fill="#00bfff" opacity="0.6"/>
<rect x="424.79" y="324.3" width="1.75" height="14.7" fill="#00bfff"/>
<rect x="427.51" y="328.3" width="1.0" height="10.2" fill="#0000ff" opacity="0.6"/>
<rect x="427.16" y="328.8" width="1.75" height="9.7" fill="#0000ff"/>
<rect x="429.88" y="320.0" width="1.0" height="20.0" fill="#0000ff" opacity="0.6"/>
<rect x="429.53" y="322.0" width="1.75" height="13.0" fill="#0000ff"/>
<rect x="432.25" y="320.4" width="1.0" height="6.4" fill="#00bfff" opacity="0.6"/>
<rect x="431.90" y="321.4" width="1.75" height="3.4" fill="#00bfff"/>
<rect x="434.62" y="319.4" width="1.0" height="6.9" fill="#00bfff" opacity="0.6"/>
<rect x="434.27" y="321.4" width="1.75" height="3.4" fill="#00bfff"/>
<rect x="436.99" y="322.7" width="1.0" height="5.8" fill="#00bfff" opacity="0.6"/>
<rect x="436.64" y="323.7" width="1.75" height="3.3" fill="#00bfff"/>
<rect x="439.36" y="321.5" width="1.0" height="6.7" fill="#0000ff" opacity="0.6"/>
<rect x="439.01" y="322.5" width="1.75" height="5.2" fill="#0000ff"/>
<rect x="441.73" y="319.5" width="1.0" height="6.3" fill="#0000ff" opacity="0.6"/>
<rect x="441.38" y="319.5" width="1.75" height="4.8" fill="#0000ff"/>
<rect x="444.10" y="307.0" width="1.0" height="14.6" fill="#0000ff" opacity="0.6"/>
<rect x="443.75" y="311.0" width="1.75" height="9.6" fill="#0000ff"/>
<rect x="446.47" y="309.8" width="1.0" height="7.3" fill="#00bfff" opacity="0.6"/>
<rect x="446.12" y="309.8" width="1.75" height="6.8" fill="#00bfff"/>
<rect x="448.84" y="313.8" width="1.0" height="2.2" fill="#0000ff" opacity="0.6"/>
<rect x="448.49" y="313.8" width="1.75" height="2.2" fill="#0000ff"/>
<rect x="451.20" y="312.4" width="1.0" height="18.6" fill="#00bfff" opacity="0.6"/>
<rect x="450.85" y="314.4" width="1.75" height="10.2" fill="#00bfff"/>
<rect x="453.57" y="318.5" width="1.0" height="7.8" fill="#0000ff" opacity="0.6"/>
<rect x="453.22" y="320.0" width="1.75" height="5.8" fill="#0000ff"/>
<rect x="455.94" y="318.5" width="1.0" height="5.3" fill="#00bfff" opacity="0.6"/>
<rect x="455.59" y="319.5" width="1.75" height="2.8" fill="#00bfff"/>
<rect x="458.31" y="320.0" width="1.0" height="13.7" fill="#00bfff" opacity="0.6"/>
<rect x="457.96" y="320.0" width="1.75" height="7.0" fill="#00bfff"/>
<rect x="460.68" y="324.6" width="1.0" height="6.8" fill="#00bfff" opacity="0.6"/>
<rect x="460.33" y="324.6" width="1.75" height="3.4" fill="#00bfff"/>
<rect x="463.05" y="324.0" width="1.0" height="6.6" fill="#0000ff" opacity="0.6"/>
<rect x="462.70" y="325.0" width="1.75" height="3.6" fill="#0000ff"/>
<rect x="465.42" y="322.3" width="1.0" height="4.0" fill="#0000ff" opacity="0.6"/>
<rect x="465.07" y="322.3" width="1.75" height="3.5" fill="#0000ff"/>
<rect x="467.79" y="320.3" width="1.0" height="5.3" fill="#00bfff" opacity="0.6"/>
<rect x="467.44" y="321.8" width="1.75" height="2.8" fill="#00bfff"/>
<rect x="470.16" y="311.5" width="1.0" height="15.1" fill="#0000ff" opacity="0.6"/>
<rect x="469.81" y="312.0" width="1.75" height="12.6" fill="#0000ff"/>
<rect x="472.53" y="312.0" width="1.0" height="11.8" fill="#00bfff" opacity="0.6"/>
<rect x="472.18" y="312.0" width="1.75" height="10.3" fill="#00bfff"/>
<rect x="474.90" y="316.8" width="1.0" height="4.2" fill="#0000ff" opacity="0.6"/>
<rect x="474.55" y="318.3" width="1.75" height="1.7" fill="#0000ff"/>
<rect x="477.27" y="319.5" width="1.0" height="5.5" fill="#00bfff" opacity="0.6"/>
<rect x="476.92" y="319.5" width="1.75" height="4.0" fill="#00bfff"/>
<rect x="479.64" y="317.0" width="1.0" height="14.3" fill="#00bfff" opacity="0.6"/>
<rect x="479.29" y="317.0" width="1.75" height="13.3" fill="#00bfff"/>
<rect x="482.01" y="314.5" width="1.0" height="16.2" fill="#0000ff" opacity="0.6"/>
<rect x="481.66" y="315.0" width="1.75" height="14.7" fill="#0000ff"/>
<rect x="484.38" y="309.5" width="1.0" height="7.0" fill="#0000ff" opacity="0.6"/>
<rect x="484.03" y="311.0" width="1.75" height="4.5" fill="#0000ff"/>
<rect x="486.75" y="302.4" width="1.0" height="9.6" fill="#00bfff" opacity="0.6"/>
<rect x="486.40" y="309.8" width="1.75" height="2.2" fill="#00bfff"/>
<rect x="489.12" y="308.8" width="1.0" height="3.7" fill="#0000ff" opacity="0.6"/>
<rect x="488.77" y="309.8" width="1.75" height="2.2" fill="#0000ff"/>
<rect x="491.49" y="309.9" width="1.0" height="1.6" fill="#0000ff" opacity="0.6"/>
<rect x="491.14" y="310.4" width="1.75" height="1.1" fill="#0000ff"/>
<rect x="493.86" y="307.2" width="1.0" height="6.0" fill="#00bfff" opacity="0.6"/>
<rect x="493.51" y="308.7" width="1.75" height="4.5" fill="#00bfff"/>
<rect x="496.23" y="307.0" width="1.0" height="7.3" fill="#00bfff" opacity="0.6"/>
<rect x="495.88" y="308.7" width="1.75" height="5.1" fill="#00bfff"/>
<rect x="498.59" y="311.5" width="1.0" height="6.2" fill="#00bfff" opacity="0.6"/>
<rect x="498.24" y="312.0" width="1.75" height="4.7" fill="#00bfff"/>
<rect x="500.96" y="315.1" width="1.0" height="7.3" fill="#00bfff" opacity="0.6"/>
<rect x="500.61" y="315.6" width="1.75" height="6.8" fill="#00bfff"/>
<rect x="503.33" y="320.3" width="1.0" height="5.2" fill="#0000ff" opacity="0.6"/>
<rect x="502.98" y="321.3" width="1.75" height="2.2" fill="#0000ff"/>
<rect x="505.70" y="320.3" width="1.0" height="5.9" fill="#00bfff" opacity="0.6"/>
<rect x="505.35" y="321.8" width="1.75" height="3.4" fill="#00bfff"/>
<rect x="508.07" y="317.3" width="1.0" height="9.5" fill="#0000ff" opacity="0.6"/>
<rect x="507.72" y="317.3" width="1.75" height="8.5" fill="#0000ff"/>
<rect x="510.44" y="313.9" width="1.0" height="4.9" fill="#0000ff" opacity="0.6"/>
<rect x="510.09" y="314.4" width="1.75" height="3.4" fill="#0000ff"/>
<rect x="512.81" y="313.5" width="1.0" height="4.7" fill="#00bfff" opacity="0.6"/>
<rect x="512.46" y="315.0" width="1.75" height="1.7" fill="#00bfff"/>
<rect x="515.18" y="311.8" width="1.0" height="8.2" fill="#0000ff" opacity="0.6"/>
<rect x="514.83" y="313.3" width="1.75" height="5.7" fill="#0000ff"/>
<rect x="517.55" y="314.4" width="1.0" height="3.3" fill="#00bfff" opacity="0.6"/>
<rect x="517.20" y="314.4" width="1.75" height="2.3" fill="#00bfff"/>
<rect x="519.92" y="313.0" width="1.0" height="2.0" fill="#0000ff" opacity="0.6"/>
<rect x="519.57" y="314.0" width="1.75" height="1.0" fill="#0000ff"/>
<rect x="522.29" y="315.0" width="1.0" height="3.3" fill="#00bfff" opacity="0.6"/>
<rect x="521.94" y="315.0" width="1.75" height="2.8" fill="#00bfff"/>
<rect x="524.66" y="316.7" width="1.0" height="3.3" fill="#00bfff" opacity="0.6"/>
<rect x="524.31" y="316.7" width="1.75" height="3.3" fill="#00bfff"/>
<rect x="527.03" y="314.4" width="1.0" height="6.9" fill="#00bfff" opacity="0.6"/>
<rect x="526.68" y="314.4" width="1.75" height="6.9" fill="#00bfff"/>
<rect x="529.40" y="299.8" width="1.0" height="18.0" fill="#0000ff" opacity="0.6"/>
<rect x="529.05" y="300.8" width="1.75" height="17.0" fill="#0000ff"/>
<rect x="531.77" y="301.0" width="1.0" height="5.4" fill="#00bfff" opacity="0.6"/>
<rect x="531.42" y="303.0" width="1.75" height="3.4" fill="#00bfff"/>
<rect x="534.14" y="303.8" width="1.0" height="7.0" fill="#00bfff" opacity="0.6"/>
<rect x="533.79" y="305.3" width="1.75" height="4.0" fill="#00bfff"/>
<rect x="536.51" y="290.0" width="1.0" height="18.6" fill="#0000ff" opacity="0.6"/>
<rect x="536.16" y="291.0" width="1.75" height="16.6" fill="#0000ff"/>
<rect x="538.88" y="282.5" width="1.0" height="9.6" fill="#0000ff" opacity="0.6"/>
<rect x="538.53" y="287.0" width="1.75" height="4.6" fill="#0000ff"/>
<rect x="541.25" y="283.8" width="1.0" height="14.7" fill="#00bfff" opacity="0.6"/>
<rect x="540.90" y="284.8" width="1.75" height="10.2" fill="#00bfff"/>
<rect x="543.62" y="287.0" width="1.0" height="8.0" fill="#0000ff" opacity="0.6"/>
<rect x="543.27" y="287.0" width="1.75" height="7.0" fill="#0000ff"/>
<rect x="545.99" y="285.5" width="1.0" height="7.5" fill="#00bfff" opacity="0.6"/>
<rect x="545.63" y="286.5" width="1.75" height="4.5" fill="#00bfff"/>
<rect x="548.35" y="288.4" width="1.0" height="5.3" fill="#00bfff" opacity="0.6"/>
<rect x="548.00" y="289.4" width="1.75" height="2.8" fill="#00bfff"/>
<rect x="550.72" y="286.0" width="1.0" height="8.0" fill="#0000ff" opacity="0.6"/>
<rect x="550.37" y="287.0" width="1.75" height="4.0" fill="#0000ff"/>
<rect x="553.09" y="286.3" width="1.0" height="3.7" fill="#00bfff" opacity="0.6"/>
<rect x="552.74" y="287.3" width="1.75" height="1.7" fill="#00bfff"/>
<rect x="555.46" y="288.0" width="1.0" height="5.0" fill="#00bfff" opacity="0.6"/>
<rect x="555.11" y="288.5" width="1.75" height="3.5" fill="#00bfff"/>
<rect x="557.83" y="277.0" width="1.0" height="15.3" fill="#0000ff" opacity="0.6"/>
<rect x="557.48" y="282.0" width="1.75" height="9.3" fill="#0000ff"/>
<rect x="560.20" y="276.0" width="1.0" height="6.1" fill="#0000ff" opacity="0.6"/>
<rect x="559.85" y="276.0" width="1.75" height="5.6" fill="#0000ff"/>
<rect x="562.57" y="275.0" width="1.0" height="2.7" fill="#0000ff" opacity="0.6"/>
<rect x="562.22" y="276.5" width="1.75" height="1.2" fill="#0000ff"/>
<rect x="564.94" y="274.5" width="1.0" height="11.5" fill="#00bfff" opacity="0.6"/>
<rect x="564.59" y="276.5" width="1.75" height="3.5" fill="#00bfff"/>
<rect x="567.31" y="274.5" width="1.0" height="5.3" fill="#0000ff" opacity="0.6"/>
<rect x="566.96" y="276.5" width="1.75" height="2.3" fill="#0000ff"/>
<rect x="569.68" y="273.0" width="1.0" height="5.5" fill="#0000ff" opacity="0.6"/>
<rect x="569.33" y="273.0" width="1.75" height="4.0" fill="#0000ff"/>
<rect x="572.05" y="269.7" width="1.0" height="18.3" fill="#00bfff" opacity="0.6"/>
<rect x="571.70" y="273.0" width="1.75" height="7.0" fill="#00bfff"/>
<rect x="574.42" y="278.9" width="1.0" height="2.1" fill="#00bfff" opacity="0.6"/>
<rect x="574.07" y="279.4" width="1.75" height="1.6" fill="#00bfff"/>
<rect x="576.79" y="278.4" width="1.0" height="3.6" fill="#00bfff" opacity="0.6"/>
<rect x="576.44" y="279.4" width="1.75" height="1.6" fill="#00bfff"/>
<rect x="579.16" y="279.0" width="1.0" height="17.0" fill="#00bfff" opacity="0.6"/>
<rect x="578.81" y="280.5" width="1.75" height="13.5" fill="#00bfff"/>
<rect x="581.53" y="291.5" width="1.0" height="12.8" fill="#00bfff" opacity="0.6"/>
<rect x="581.18" y="293.0" width="1.75" height="10.3" fill="#00bfff"/>
<rect x="583.90" y="294.4" width="1.0" height="21.4" fill="#0000ff" opacity="0.6"/>
<rect x="583.55" y="296.4" width="1.75" height="6.9" fill="#0000ff"/>
<rect x="586.27" y="292.0" width="1.0" height="5.6" fill="#0000ff" opacity="0.6"/>
<rect x="585.92" y="295.3" width="1.75" height="2.3" fill="#0000ff"/>
<rect x="588.64" y="288.0" width="1.0" height="27.8" fill="#00bfff" opacity="0.6"/>
<rect x="588.29" y="295.3" width="1.75" height="6.7" fill="#00bfff"/>
<rect x="591.01" y="298.9" width="1.0" height="4.1" fill="#0000ff" opacity="0.6"/>
<rect x="590.66" y="300.4" width="1.75" height="1.6" fill="#0000ff"/>
<rect x="593.38" y="297.6" width="1.0" height="13.4" fill="#00bfff" opacity="0.6"/>
<rect x="593.02" y="297.6" width="1.75" height="12.4" fill="#00bfff"/>
<rect x="595.74" y="296.7" width="1.0" height="18.0" fill="#0000ff" opacity="0.6"/>
<rect x="595.39" y="298.7" width="1.75" height="11.3" fill="#0000ff"/>
<rect x="598.11" y="294.8" width="1.0" height="5.5" fill="#0000ff" opacity="0.6"/>
<rect x="597.76" y="298.0" width="1.75" height="1.3" fill="#0000ff"/>
<rect x="600.48" y="296.0" width="1.0" height="10.7" fill="#00bfff" opacity="0.6"/>
<rect x="600.13" y="298.0" width="1.75" height="1.3" fill="#00bfff"/>
<rect x="602.85" y="297.7" width="1.0" height="3.3" fill="#0000ff" opacity="0.6"/>
<rect x="602.50" y="298.7" width="1.75" height="1.3" fill="#0000ff"/>
<rect x="605.22" y="297.3" width="1.0" height="5.7" fill="#00bfff" opacity="0.6"/>
<rect x="604.87" y="299.3" width="1.75" height="2.7" fill="#00bfff"/>
<rect x="607.59" y="284.6" width="1.0" height="17.4" fill="#0000ff" opacity="0.6"/>
<rect x="607.24" y="285.6" width="1.75" height="16.4" fill="#0000ff"/>
<rect x="609.96" y="285.3" width="1.0" height="5.2" fill="#00bfff" opacity="0.6"/>
<rect x="609.61" y="285.8" width="1.75" height="4.2" fill="#00bfff"/>
<rect x="612.33" y="286.5" width="1.0" height="4.5" fill="#00bfff" opacity="0.6"/>
<rect x="611.98" y="288.0" width="1.75" height="2.0" fill="#00bfff"/>
<rect x="614.70" y="274.7" width="1.0" height="16.8" fill="#0000ff" opacity="0.6"/>
<rect x="614.35" y="276.7" width="1.75" height="13.3" fill="#0000ff"/>
<rect x="617.07" y="267.6" width="1.0" height="11.2" fill="#0000ff" opacity="0.6"/>
<rect x="616.72" y="267.6" width="1.75" height="10.2" fill="#0000ff"/>
<rect x="619.44" y="264.2" width="1.0" height="3.2" fill="#0000ff" opacity="0.6"/>
<rect x="619.09" y="264.7" width="1.75" height="1.7" fill="#0000ff"/>
<rect x="621.81" y="255.1" width="1.0" height="10.2" fill="#0000ff" opacity="0.6"/>
<rect x="621.46" y="255.6" width="1.75" height="9.7" fill="#0000ff"/>
<rect x="624.18" y="249.5" width="1.0" height="8.3" fill="#0000ff" opacity="0.6"/>
<rect x="623.83" y="250.5" width="1.75" height="6.3" fill="#0000ff"/>
<rect x="626.55" y="250.7" width="1.0" height="10.0" fill="#00bfff" opacity="0.6"/>
<rect x="626.20" y="252.2" width="1.75" height="7.4" fill="#00bfff"/>
<rect x="628.92" y="245.0" width="1.0" height="15.7" fill="#0000ff" opacity="0.6"/>
<rect x="628.57" y="246.0" width="1.75" height="12.5" fill="#0000ff"/>
<rect x="631.29" y="241.4" width="1.0" height="6.6" fill="#0000ff" opacity="0.6"/>
<rect x="630.94" y="241.4" width="1.75" height="5.6" fill="#0000ff"/>
<rect x="633.66" y="240.5" width="1.0" height="7.2" fill="#00bfff" opacity="0.6"/>
<rect x="633.31" y="242.5" width="1.75" height="5.2" fill="#00bfff"/>
<rect x="636.03" y="243.4" width="1.0" height="9.9" fill="#0000ff" opacity="0.6"/>
<rect x="635.68" y="245.4" width="1.75" height="2.3" fill="#0000ff"/>
<rect x="638.40" y="238.8" width="1.0" height="14.0" fill="#0000ff" opacity="0.6"/>
<rect x="638.05" y="240.8" width="1.75" height="5.7" fill="#0000ff"/>
<rect x="640.76" y="231.3" width="1.0" height="11.1" fill="#0000ff" opacity="0.6"/>
<rect x="640.41" y="232.8" width="1.75" height="8.6" fill="#0000ff"/>
<rect x="643.13" y="231.4" width="1.0" height="7.6" fill="#00bfff" opacity="0.6"/>
<rect x="642.78" y="233.4" width="1.75" height="5.6" fill="#00bfff"/>
<rect x="645.50" y="233.7" width="1.0" height="12.1" fill="#00bfff" opacity="0.6"/>
<rect x="645.15" y="235.7" width="1.75" height="9.1" fill="#00bfff"/>
<rect x="647.87" y="239.3" width="1.0" height="9.2" fill="#00bfff" opacity="0.6"/>
<rect x="647.52" y="240.8" width="1.75" height="6.2" fill="#00bfff"/>
<rect x="650.24" y="240.8" width="1.0" height="11.2" fill="#0000ff" opacity="0.6"/>
<rect x="649.89" y="240.8" width="1.75" height="2.2" fill="#0000ff"/>
<rect x="652.61" y="236.5" width="1.0" height="6.9" fill="#00bfff" opacity="0.6"/>
<rect x="652.26" y="238.0" width="1.75" height="3.4" fill="#00bfff"/>
<rect x="654.98" y="240.3" width="1.0" height="3.2" fill="#00bfff" opacity="0.6"/>
<rect x="654.63" y="240.3" width="1.75" height="2.2" fill="#00bfff"/>
<rect x="657.35" y="236.9" width="1.0" height="13.1" fill="#00bfff" opacity="0.6"/>
<rect x="657.00" y="237.4" width="1.75" height="9.6" fill="#00bfff"/>
<rect x="659.72" y="245.5" width="1.0" height="6.5" fill="#0000ff" opacity="0.6"/>
<rect x="659.37" y="246.0" width="1.75" height="1.7" fill="#0000ff"/>
<rect x="662.09" y="244.8" width="1.0" height="2.7" fill="#0000ff" opacity="0.6"/>
<rect x="661.74" y="245.8" width="1.75" height="1.7" fill="#0000ff"/>
<rect x="664.46" y="243.5" width="1.0" height="6.5" fill="#00bfff" opacity="0.6"/>
<rect x="664.11" y="245.0" width="1.75" height="5.0" fill="#00bfff"/>
<rect x="666.83" y="221.3" width="1.0" height="26.5" fill="#0000ff" opacity="0.6"/>
<rect x="666.48" y="222.8" width="1.75" height="25.0" fill="#0000ff"/>
<rect x="669.20" y="217.7" width="1.0" height="15.1" fill="#00bfff" opacity="0.6"/>
<rect x="668.85" y="224.5" width="1.75" height="6.3" fill="#00bfff"/>
<rect x="671.57" y="223.5" width="1.0" height="16.5" fill="#0000ff" opacity="0.6"/>
<rect x="671.22" y="224.5" width="1.75" height="6.3" fill="#0000ff"/>
<rect x="673.94" y="214.3" width="1.0" height="11.9" fill="#0000ff" opacity="0.6"/>
<rect x="673.59" y="214.8" width="1.75" height="11.4" fill="#0000ff"/>
<rect x="676.31" y="214.4" width="1.0" height="14.6" fill="#00bfff" opacity="0.6"/>
<rect x="675.96" y="215.4" width="1.75" height="8.6" fill="#00bfff"/>
<rect x="678.68" y="218.8" width="1.0" height="10.8" fill="#00bfff" opacity="0.6"/>
<rect x="678.33" y="218.8" width="1.75" height="10.8" fill="#00bfff"/>
<rect x="681.05" y="214.0" width="1.0" height="12.8" fill="#0000ff" opacity="0.6"/>
<rect x="680.70" y="217.0" width="1.75" height="9.8" fill="#0000ff"/>
<rect x="683.42" y="211.0" width="1.0" height="10.5" fill="#0000ff" opacity="0.6"/>
<rect x="683.07" y="213.0" width="1.75" height="7.5" fill="#0000ff"/>
<rect x="685.79" y="186.8" width="1.0" height="27.9" fill="#0000ff" opacity="0.6"/>
<rect x="685.44" y="188.8" width="1.75" height="24.9" fill="#0000ff"/>
<rect x="688.15" y="179.0" width="1.0" height="15.9" fill="#00bfff" opacity="0.6"/>
<rect x="687.80" y="189.4" width="1.75" height="4.0" fill="#00bfff"/>
<rect x="690.52" y="179.3" width="1.0" height="13.0" fill="#0000ff" opacity="0.6"/>
<rect x="690.17" y="180.3" width="1.75" height="12.0" fill="#0000ff"/>
<rect x="692.89" y="165.5" width="1.0" height="30.5" fill="#0000ff" opacity="0.6"/>
<rect x="692.54" y="174.0" width="1.75" height="6.3" fill="#0000ff"/>
<rect x="695.26" y="165.5" width="1.0" height="8.5" fill="#0000ff" opacity="0.6"/>
<rect x="694.91" y="170.6" width="1.75" height="3.4" fill="#0000ff"/>
<rect x="697.63" y="166.8" width="1.0" height="13.9" fill="#00bfff" opacity="0.6"/>
<rect x="697.28" y="168.3" width="1.75" height="10.9" fill="#00bfff"/>
<rect x="700.00" y="166.3" width="1.0" height="16.3" fill="#0000ff" opacity="0.6"/>
<rect x="699.65" y="167.8" width="1.75" height="11.4" fill="#0000ff"/>
<rect x="702.37" y="167.5" width="1.0" height="8.8" fill="#00bfff" opacity="0.6"/>
<rect x="702.02" y="169.5" width="1.75" height="6.3" fill="#00bfff"/>
<rect x="704.74" y="171.8" width="1.0" height="3.7" fill="#00bfff" opacity="0.6"/>
<rect x="704.39" y="171.8" width="1.75" height="2.2" fill="#00bfff"/>
<rect x="707.11" y="165.2" width="1.0" height="8.3" fill="#0000ff" opacity="0.6"/>
<rect x="706.76" y="167.2" width="1.75" height="6.3" fill="#0000ff"/>
<rect x="709.48" y="164.5" width="1.0" height="25.5" fill="#00bfff" opacity="0.6"/>
<rect x="709.13" y="166.0" width="1.75" height="24.0" fill="#00bfff"/>
<rect x="711.85" y="187.3" width="1.0" height="12.4" fill="#0000ff" opacity="0.6"/>
<rect x="711.50" y="188.8" width="1.75" height="1.8" fill="#0000ff"/>
<rect x="714.22" y="175.0" width="1.0" height="20.0" fill="#0000ff" opacity="0.6"/>
<rect x="713.87" y="182.6" width="1.75" height="7.4" fill="#0000ff"/>
<rect x="716.59" y="177.0" width="1.0" height="7.1" fill="#0000ff" opacity="0.6"/>
<rect x="716.24" y="178.0" width="1.75" height="4.6" fill="#0000ff"/>
<rect x="718.96" y="176.4" width="1.0" height="2.2" fill="#0000ff" opacity="0.6"/>
<rect x="718.61" y="176.9" width="1.75" height="1.7" fill="#0000ff"/>
<rect x="721.33" y="155.8" width="1.0" height="22.2" fill="#0000ff" opacity="0.6"/>
<rect x="720.98" y="167.8" width="1.75" height="9.7" fill="#0000ff"/>
<rect x="723.70" y="159.3" width="1.0" height="10.5" fill="#0000ff" opacity="0.6"/>
<rect x="723.35" y="159.8" width="1.75" height="8.0" fill="#0000ff"/>
<rect x="726.07" y="159.3" width="1.0" height="8.9" fill="#00bfff" opacity="0.6"/>
<rect x="725.72" y="159.8" width="1.75" height="7.4" fill="#00bfff"/>
<rect x="728.44" y="149.6" width="1.0" height="16.3" fill="#0000ff" opacity="0.6"/>
<rect x="728.09" y="155.3" width="1.75" height="9.1" fill="#0000ff"/>
<rect x="730.81" y="153.3" width="1.0" height="10.9" fill="#00bfff" opacity="0.6"/>
<rect x="730.46" y="155.3" width="1.75" height="7.9" fill="#00bfff"/>
<rect x="733.18" y="160.3" width="1.0" height="6.4" fill="#00bfff" opacity="0.6"/>
<rect x="732.83" y="161.3" width="1.75" height="4.4" fill="#00bfff"/>
<rect x="735.54" y="155.3" width="1.0" height="15.2" fill="#0000ff" opacity="0.6"/>
<rect x="735.19" y="156.8" width="1.75" height="10.2" fill="#0000ff"/>
<rect x="737.91" y="155.0" width="1.0" height="7.6" fill="#0000ff" opacity="0.6"/>
<rect x="737.56" y="156.0" width="1.75" height="5.6" fill="#0000ff"/>
<rect x="740.28" y="148.0" width="1.0" height="11.7" fill="#0000ff" opacity="0.6"/>
<rect x="739.93" y="151.4" width="1.75" height="6.8" fill="#0000ff"/>
<rect x="742.65" y="143.2" width="1.0" height="50.8" fill="#00bfff" opacity="0.6"/>
<rect x="742.30" y="150.7" width="1.75" height="32.8" fill="#00bfff"/>
<rect x="745.02" y="168.8" width="1.0" height="16.0" fill="#0000ff" opacity="0.6"/>
<rect x="744.67" y="169.8" width="1.75" height="15.0" fill="#0000ff"/>
<rect x="747.39" y="170.0" width="1.0" height="5.5" fill="#00bfff" opacity="0.6"/>
<rect x="747.04" y="171.0" width="1.75" height="3.0" fill="#00bfff"/>
<rect x="749.76" y="170.5" width="1.0" height="7.5" fill="#0000ff" opacity="0.6"/>
<rect x="749.41" y="171.0" width="1.75" height="3.6" fill="#0000ff"/>
<rect x="752.13" y="158.0" width="1.0" height="16.5" fill="#0000ff" opacity="0.6"/>
<rect x="751.78" y="159.0" width="1.75" height="13.5" fill="#0000ff"/>
<rect x="754.50" y="148.1" width="1.0" height="13.1" fill="#0000ff" opacity="0.6"/>
<rect x="754.15" y="148.6" width="1.75" height="11.6" fill="#0000ff"/>
<rect x="756.87" y="135.7" width="1.0" height="15.6" fill="#0000ff" opacity="0.6"/>
<rect x="756.52" y="143.9" width="1.75" height="5.4" fill="#0000ff"/>
<rect x="759.24" y="141.7" width="1.0" height="9.7" fill="#00bfff" opacity="0.6"/>
<rect x="758.89" y="143.2" width="1.75" height="2.8" fill="#00bfff"/>
<rect x="761.61" y="136.9" width="1.0" height="9.6" fill="#0000ff" opacity="0.6"/>
<rect x="761.26" y="138.4" width="1.75" height="6.1" fill="#0000ff"/>
<rect x="763.98" y="128.7" width="1.0" height="15.8" fill="#0000ff" opacity="0.6"/>
<rect x="763.63" y="130.2" width="1.75" height="12.3" fill="#0000ff"/>
<rect x="766.35" y="126.0" width="1.0" height="6.0" fill="#0000ff" opacity="0.6"/>
<rect x="766.00" y="128.0" width="1.75" height="3.0" fill="#0000ff"/>
<rect x="768.72" y="127.5" width="1.0" height="15.0" fill="#00bfff" opacity="0.6"/>
<rect x="768.37" y="128.0" width="1.75" height="10.4" fill="#00bfff"/>
<rect x="771.09" y="126.0" width="1.0" height="13.7" fill="#0000ff" opacity="0.6"/>
<rect x="770.74" y="130.2" width="1.75" height="7.5" fill="#0000ff"/>
<rect x="773.46" y="127.0" width="1.0" height="5.7" fill="#00bfff" opacity="0.6"/>
<rect x="773.11" y="128.0" width="1.75" height="4.2" fill="#00bfff"/>
<rect x="775.83" y="131.7" width="1.0" height="4.6" fill="#00bfff" opacity="0.6"/>
<rect x="775.48" y="132.2" width="1.75" height="4.1" fill="#00bfff"/>
<rect x="778.20" y="128.5" width="1.0" height="10.5" fill="#0000ff" opacity="0.6"/>
<rect x="777.85" y="129.5" width="1.75" height="7.5" fill="#0000ff"/>
<rect x="780.57" y="128.5" width="1.0" height="22.9" fill="#00bfff" opacity="0.6"/>
<rect x="780.22" y="129.5" width="1.75" height="10.9" fill="#00bfff"/>
<rect x="782.93" y="128.2" width="1.0" height="13.7" fill="#0000ff" opacity="0.6"/>
<rect x="782.58" y="130.2" width="1.75" height="10.2" fill="#0000ff"/>
<rect x="785.30" y="130.6" width="1.0" height="31.9" fill="#00bfff" opacity="0.6"/>
<rect x="784.95" y="131.6" width="1.75" height="29.4" fill="#00bfff"/>
<rect x="787.67" y="147.3" width="1.0" height="11.4" fill="#0000ff" opacity="0.6"/>
<rect x="787.32" y="149.3" width="1.75" height="8.9" fill="#0000ff"/>
<rect x="790.04" y="144.5" width="1.0" height="6.5" fill="#0000ff" opacity="0.6"/>
<rect x="789.69" y="145.0" width="1.75" height="5.0" fill="#0000ff"/>
<rect x="792.41" y="132.5" width="1.0" height="13.0" fill="#0000ff" opacity="0.6"/>
<rect x="792.06" y="133.0" width="1.75" height="12.0" fill="#0000ff"/>
<rect x="794.78" y="123.5" width="1.0" height="12.0" fill="#0000ff" opacity="0.6"/>
<rect x="794.43" y="125.0" width="1.75" height="9.0" fill="#0000ff"/>
<rect x="797.15" y="117.0" width="1.0" height="10.5" fill="#0000ff" opacity="0.6"/>
<rect x="796.80" y="118.0" width="1.75" height="9.0" fill="#0000ff"/>
<rect x="799.52" y="105.5" width="1.0" height="17.5" fill="#0000ff" opacity="0.6"/>
<rect x="799.17" y="111.0" width="1.75" height="10.0" fill="#0000ff"/>
<rect x="801.89" y="108.0" width="1.0" height="18.5" fill="#00bfff" opacity="0.6"/>
<rect x="801.54" y="111.6" width="1.75" height="13.4" fill="#00bfff"/>
<rect x="804.26" y="119.7" width="1.0" height="15.1" fill="#00bfff" opacity="0.6"/>
<rect x="803.91" y="120.7" width="1.75" height="12.1" fill="#00bfff"/>
<rect x="806.63" y="115.7" width="1.0" height="17.1" fill="#0000ff" opacity="0.6"/>
<rect x="806.28" y="117.7" width="1.75" height="7.3" fill="#0000ff"/>
<rect x="809.00" y="111.4" width="1.0" height="7.8" fill="#0000ff" opacity="0.6"/>
<rect x="808.65" y="112.4" width="1.75" height="5.3" fill="#0000ff"/>
<rect x="811.37" y="76.0" width="1.0" height="37.1" fill="#0000ff" opacity="0.6"/>
<rect x="811.02" y="77.5" width="1.75" height="34.1" fill="#0000ff"/>
<rect x="813.74" y="63.8" width="1.0" height="57.9" fill="#00bfff" opacity="0.6"/>
<rect x="813.39" y="77.5" width="1.75" height="43.2" fill="#00bfff"/>
<rect x="816.11" y="115.5" width="1.0" height="18.5" fill="#0000ff" opacity="0.6"/>
<rect x="815.76" y="116.0" width="1.75" height="4.7" fill="#0000ff"/>
<rect x="818.48" y="101.5" width="1.0" height="14.5" fill="#0000ff" opacity="0.6"/>
<rect x="818.13" y="102.5" width="1.75" height="13.5" fill="#0000ff"/>
<rect x="820.85" y="101.5" width="1.0" height="20.5" fill="#00bfff" opacity="0.6"/>
<rect x="820.50" y="102.5" width="1.75" height="7.5" fill="#00bfff"/>
<rect x="823.22" y="69.6" width="1.0" height="41.4" fill="#0000ff" opacity="0.6"/>
<rect x="822.87" y="70.6" width="1.75" height="39.4" fill="#0000ff"/>
<rect x="825.59" y="66.8" width="1.0" height="37.2" fill="#00bfff" opacity="0.6"/>
<rect x="825.24" y="70.6" width="1.75" height="25.8" fill="#00bfff"/>
<rect x="827.96" y="77.5" width="1.0" height="26.5" fill="#00bfff" opacity="0.6"/>
<rect x="827.61" y="95.0" width="1.75" height="3.0" fill="#00bfff"/>
<rect x="830.32" y="89.1" width="1.0" height="13.9" fill="#0000ff" opacity="0.6"/>
<rect x="829.97" y="89.6" width="1.75" height="7.6" fill="#0000ff"/>
<rect x="832.69" y="79.0" width="1.0" height="14.1" fill="#0000ff" opacity="0.6"/>
<rect x="832.34" y="87.3" width="1.75" height="5.3" fill="#0000ff"/>
<rect x="835.06" y="56.2" width="1.0" height="32.8" fill="#0000ff" opacity="0.6"/>
<rect x="834.71" y="57.7" width="1.75" height="30.3" fill="#0000ff"/>
<rect x="837.43" y="53.0" width="1.0" height="14.0" fill="#00bfff" opacity="0.6"/>
<rect x="837.08" y="58.0" width="1.75" height="8.0" fill="#00bfff"/>
<rect x="839.80" y="53.5" width="1.0" height="31.5" fill="#0000ff" opacity="0.6"/>
<rect x="839.45" y="54.0" width="1.75" height="5.5" fill="#0000ff"/>
<rect x="842.17" y="42.5" width="1.0" height="12.5" fill="#0000ff" opacity="0.6"/>
<rect x="841.82" y="43.5" width="1.75" height="10.5" fill="#0000ff"/>
<rect x="844.54" y="33.5" width="1.0" height="12.5" fill="#0000ff" opacity="0.6"/>
<rect x="844.19" y="34.0" width="1.75" height="11.0" fill="#0000ff"/>
<rect x="846.91" y="27.7" width="1.0" height="12.0" fill="#0000ff" opacity="0.6"/>
<rect x="846.56" y="29.7" width="1.75" height="9.0" fill="#0000ff"/>
<rect x="849.28" y="9.0" width="1.0" height="25.4" fill="#0000ff" opacity="0.6"/>
<rect x="848.93" y="15.3" width="1.75" height="17.1" fill="#0000ff"/>
<rect x="851.65" y="8.1" width="1.0" height="71.2" fill="#00bfff" opacity="0.6"/>
<rect x="851.30" y="15.3" width="1.75" height="45.1" fill="#00bfff"/>
<!-- RSI levels -->
<line x1="2" y1="463.5" x2="1062" y2="463.5" stroke="#d2d2d2" stroke-width="1" stroke-dasharray="1.5 2.05"/>
<line x1="2" y1="492.5" x2="1062" y2="492.5" stroke="#d2d2d2" stroke-width="1" stroke-dasharray="1.5 2.05"/>
<polyline points="2.0,463.5 5.5,462.0 9.5,464.5 12.5,463.5 15.5,461.5 18.0,470.0 21.0,467.5 22.5,468.0 25.5,473.0 27.5,473.5 30.0,479.0 33.5,475.5 36.5,473.5 40.0,477.5 44.0,478.5 46.5,488.5 52.0,487.0 56.0,487.5 59.0,488.5 63.0,487.0 66.0,488.0 70.0,486.5 72.5,488.5 76.0,484.0 80.0,483.5 83.5,485.0 87.0,491.5 92.0,498.5 96.0,495.5 102.0,500.0 106.0,498.0 110.0,499.5 112.5,499.0 115.0,485.5 117.5,487.5 119.5,484.5 122.0,486.5 127.0,477.5 130.0,478.5 134.0,476.5 138.0,477.0 143.0,474.5 146.0,470.5 148.0,469.5 151.0,470.5 156.0,470.5 158.0,471.5 161.0,470.0 165.0,469.5 169.0,463.0 172.0,462.5 174.5,466.0 176.5,464.5 179.0,467.5 183.5,465.0 186.5,468.0 190.5,466.0 193.5,472.5 198.0,478.5 202.5,484.5 205.0,486.0 209.0,478.5 212.5,481.0 215.0,480.0 217.5,476.5 220.0,477.5 221.5,479.0 224.5,469.0 228.0,465.5 232.0,467.5 236.5,465.5 238.5,466.5 240.5,475.0 243.0,476.5 245.5,481.5 250.0,480.0 253.5,480.5 257.5,485.0 262.0,480.0 266.5,476.0 269.5,477.5 271.5,474.5 274.0,480.0 278.0,478.0 281.0,481.5 284.0,478.5 285.5,479.0 288.0,490.0 292.0,489.5 297.5,493.5 300.0,482.0 305.0,476.5 310.0,476.5 312.0,477.5 317.5,472.5 321.0,471.5 324.0,474.5 328.5,479.5 330.0,473.0 330.5,464.5 331.5,464.5 334.0,466.0 335.5,465.0 338.5,468.0 343.0,470.5 345.0,469.5 347.5,473.5 351.5,469.5 357.0,478.0 361.0,474.5 364.0,474.5 366.5,477.5 370.5,480.5 373.5,475.0 376.0,475.0 380.5,473.0 383.0,470.5 385.5,470.5 388.5,467.8 392.0,468.5 394.8,473.0 397.5,470.5 399.5,471.5 402.0,460.5 404.5,464.5 407.0,463.0 410.0,458.5 412.0,458.0 414.0,460.5 417.0,459.5 422.5,458.5 423.5,460.0 425.5,470.0 427.5,469.0 431.0,464.5 433.0,464.0 437.5,467.5 440.0,466.5 442.0,465.0 444.5,462.0 447.0,463.0 449.5,464.5 451.5,471.5 454.5,470.5 456.5,471.0 461.0,475.0 466.0,472.0 468.5,473.5 470.5,468.0 473.0,472.5 476.0,472.5 478.0,474.0 480.0,479.0 483.0,471.5 485.5,470.5 487.5,471.0 491.0,469.5 494.5,469.5 501.0,479.0 505.5,480.5 509.0,475.5 513.0,476.5 516.0,474.0 520.5,474.0 523.5,476.5 527.5,476.0 530.0,466.0 534.5,470.5 537.5,463.0 539.0,462.5 541.5,467.0 544.5,465.0 547.0,466.5 550.0,466.0 555.5,468.0 559.0,464.0 562.0,462.5 567.0,463.5 570.0,461.5 573.0,468.0 577.0,469.5 579.0,476.0 582.0,484.5 585.5,479.5 589.0,483.0 591.5,482.5 593.5,486.0 597.0,479.5 601.0,479.5 605.5,481.5 608.0,472.5 612.5,476.5 616.0,468.5 619.0,466.0 623.5,462.5 627.0,464.5 631.5,461.5 634.5,464.5 638.0,463.0 641.5,461.0 646.0,467.5 651.0,466.0 655.5,467.5 658.0,471.5 660.0,471.0 664.5,470.5 667.0,462.5 669.5,466.5 674.5,462.5 679.0,468.5 683.5,464.5 686.0,460.0 688.5,462.0 692.0,459.0 695.0,458.0 698.0,463.0 700.5,461.5 705.0,463.0 707.5,461.5 710.0,472.5 712.5,472.5 716.0,469.5 719.5,469.0 723.5,464.5 726.5,466.0 728.5,464.5 733.0,469.0 735.0,469.5 740.0,466.0 741.0,465.5 743.5,478.5 745.5,475.0 748.0,476.0 750.5,475.5 753.5,471.5 757.5,468.0 761.0,468.5 766.0,464.0 769.0,468.5 770.0,469.0 772.0,467.5 776.5,470.5 778.5,468.5 781.0,473.0 783.0,470.5 786.0,479.5 790.5,476.5 793.0,472.0 799.5,467.5 802.5,472.0 804.5,472.5 809.5,469.0 811.5,463.0 814.0,475.5 819.0,472.5 821.0,473.5 823.5,467.5 826.5,473.5 829.0,473.0 833.0,471.0 835.5,467.5 838.5,467.5 844.5,464.5 849.5,462.0 851.0,471.5 852.5,472.5" fill="none" stroke="#6eb6f8" stroke-width="1"/>
<!-- frame -->
<rect x="1.5" y="1.5" width="1061.5" height="511.5" fill="none" stroke="#8a8a8a" stroke-width="1.4"/>
<rect x="1.5" y="441.6" width="1061.5" height="2" fill="#7a7a7a"/>
<rect x="1063" y="5.0" width="3" height="1" fill="#555"/>
<text x="1065.7" y="8.3" textLength="22.65" lengthAdjust="spacingAndGlyphs">53.602</text>
<rect x="1063" y="24.0" width="3" height="1" fill="#555"/>
<text x="1065.7" y="27.3" textLength="22.65" lengthAdjust="spacingAndGlyphs">52.839</text>
<rect x="1063" y="43.0" width="3" height="1" fill="#555"/>
<text x="1065.7" y="46.3" textLength="22.65" lengthAdjust="spacingAndGlyphs">52.076</text>
<rect x="1063" y="61.9" width="3" height="1" fill="#555"/>
<text x="1065.7" y="65.2" textLength="22.65" lengthAdjust="spacingAndGlyphs">51.313</text>
<rect x="1063" y="80.9" width="3" height="1" fill="#555"/>
<text x="1065.7" y="84.2" textLength="22.65" lengthAdjust="spacingAndGlyphs">50.550</text>
<rect x="1063" y="99.9" width="3" height="1" fill="#555"/>
<text x="1065.7" y="103.2" textLength="22.65" lengthAdjust="spacingAndGlyphs">49.787</text>
<rect x="1063" y="118.9" width="3" height="1" fill="#555"/>
<text x="1065.7" y="122.2" textLength="22.65" lengthAdjust="spacingAndGlyphs">49.024</text>
<rect x="1063" y="137.9" width="3" height="1" fill="#555"/>
<text x="1065.7" y="141.2" textLength="22.65" lengthAdjust="spacingAndGlyphs">48.261</text>
<rect x="1063" y="156.8" width="3" height="1" fill="#555"/>
<text x="1065.7" y="160.1" textLength="22.65" lengthAdjust="spacingAndGlyphs">47.498</text>
<rect x="1063" y="175.8" width="3" height="1" fill="#555"/>
<text x="1065.7" y="179.1" textLength="22.65" lengthAdjust="spacingAndGlyphs">46.735</text>
<rect x="1063" y="194.8" width="3" height="1" fill="#555"/>
<text x="1065.7" y="198.1" textLength="22.65" lengthAdjust="spacingAndGlyphs">45.972</text>
<rect x="1063" y="213.8" width="3" height="1" fill="#555"/>
<text x="1065.7" y="217.1" textLength="22.65" lengthAdjust="spacingAndGlyphs">45.209</text>
<rect x="1063" y="232.8" width="3" height="1" fill="#555"/>
<text x="1065.7" y="236.1" textLength="22.65" lengthAdjust="spacingAndGlyphs">44.446</text>
<rect x="1063" y="251.7" width="3" height="1" fill="#555"/>
<text x="1065.7" y="255.0" textLength="22.65" lengthAdjust="spacingAndGlyphs">43.683</text>
<rect x="1063" y="270.7" width="3" height="1" fill="#555"/>
<text x="1065.7" y="274.0" textLength="22.65" lengthAdjust="spacingAndGlyphs">42.920</text>
<rect x="1063" y="289.7" width="3" height="1" fill="#555"/>
<text x="1065.7" y="293.0" textLength="22.65" lengthAdjust="spacingAndGlyphs">42.157</text>
<rect x="1063" y="308.7" width="3" height="1" fill="#555"/>
<text x="1065.7" y="312.0" textLength="22.65" lengthAdjust="spacingAndGlyphs">41.394</text>
<rect x="1063" y="327.7" width="3" height="1" fill="#555"/>
<text x="1065.7" y="331.0" textLength="22.65" lengthAdjust="spacingAndGlyphs">40.631</text>
<rect x="1063" y="346.6" width="3" height="1" fill="#555"/>
<text x="1065.7" y="349.9" textLength="22.65" lengthAdjust="spacingAndGlyphs">39.868</text>
<rect x="1063" y="365.6" width="3" height="1" fill="#555"/>
<text x="1065.7" y="368.9" textLength="22.65" lengthAdjust="spacingAndGlyphs">39.105</text>
<rect x="1063" y="384.6" width="3" height="1" fill="#555"/>
<text x="1065.7" y="387.9" textLength="22.65" lengthAdjust="spacingAndGlyphs">38.342</text>
<rect x="1063" y="403.6" width="3" height="1" fill="#555"/>
<text x="1065.7" y="406.9" textLength="22.65" lengthAdjust="spacingAndGlyphs">37.579</text>
<rect x="1063" y="422.6" width="3" height="1" fill="#555"/>
<text x="1065.7" y="425.9" textLength="22.65" lengthAdjust="spacingAndGlyphs">36.816</text>
<rect x="1063" y="443.5" width="3" height="1" fill="#555"/>
<rect x="1063" y="463.0" width="3" height="1" fill="#555"/>
<rect x="1063" y="492.0" width="3" height="1" fill="#555"/>
<rect x="1063" y="511.5" width="3" height="1" fill="#555"/>
<text x="1066" y="450.4" textLength="22.65" lengthAdjust="spacingAndGlyphs">100.00</text>
<text x="1065.7" y="466.8" textLength="18.52" lengthAdjust="spacingAndGlyphs">70.00</text>
<text x="1065.7" y="494.6" textLength="18.52" lengthAdjust="spacingAndGlyphs">30.00</text>
<text x="1065.7" y="511.8" textLength="14.38" lengthAdjust="spacingAndGlyphs">0.00</text>
<rect x="76.5" y="513" width="1" height="3" fill="#555"/>
<text x="77" y="521.9" textLength="40.10" lengthAdjust="spacingAndGlyphs" style="font-size:7.9px">29 Jul 20:00</text>
<rect x="152.5" y="513" width="1" height="3" fill="#555"/>
<text x="153" y="521.9" textLength="39.44" lengthAdjust="spacingAndGlyphs" style="font-size:7.9px">6 Aug 04:00</text>
<rect x="228.5" y="513" width="1" height="3" fill="#555"/>
<text x="229" y="521.9" textLength="43.58" lengthAdjust="spacingAndGlyphs" style="font-size:7.9px">13 Aug 12:00</text>
<rect x="304.5" y="513" width="1" height="3" fill="#555"/>
<text x="305" y="521.9" textLength="43.58" lengthAdjust="spacingAndGlyphs" style="font-size:7.9px">20 Aug 20:00</text>
<rect x="379.5" y="513" width="1" height="3" fill="#555"/>
<text x="380" y="521.9" textLength="43.58" lengthAdjust="spacingAndGlyphs" style="font-size:7.9px">28 Aug 04:00</text>
<rect x="455.5" y="513" width="1" height="3" fill="#555"/>
<text x="456" y="521.9" textLength="39.87" lengthAdjust="spacingAndGlyphs" style="font-size:7.9px">4 Sep 12:00</text>
<rect x="531.5" y="513" width="1" height="3" fill="#555"/>
<text x="532" y="521.9" textLength="43.43" lengthAdjust="spacingAndGlyphs" style="font-size:7.9px">11 Sep 20:00</text>
<rect x="607.5" y="513" width="1" height="3" fill="#555"/>
<text x="608" y="521.9" textLength="44.00" lengthAdjust="spacingAndGlyphs" style="font-size:7.9px">19 Sep 04:00</text>
<rect x="683.5" y="513" width="1" height="3" fill="#555"/>
<text x="684" y="521.9" textLength="44.00" lengthAdjust="spacingAndGlyphs" style="font-size:7.9px">26 Sep 12:00</text>
<rect x="758.5" y="513" width="1" height="3" fill="#555"/>
<text x="759" y="521.9" textLength="38.12" lengthAdjust="spacingAndGlyphs" style="font-size:7.9px">3 Oct 20:00</text>
<rect x="834.5" y="513" width="1" height="3" fill="#555"/>
<text x="835" y="521.9" textLength="42.26" lengthAdjust="spacingAndGlyphs" style="font-size:7.9px">13 Oct 04:00</text>
<text x="1" y="521.9" textLength="38.13" lengthAdjust="spacingAndGlyphs" style="font-size:7.9px">22 Jul 2025</text>
<text x="4.2" y="9.6" style="font-size:8.2px;letter-spacing:0" textLength="66.5" lengthAdjust="spacingAndGlyphs" xml:space="preserve">SILVER, H4:  SILVER</text>
<text x="3" y="452.6" textLength="46" lengthAdjust="spacingAndGlyphs" style="font-size:8.6px">RSI(14) 56.58</text>
<rect x="1065" y="55.7" width="27.3" height="8" fill="#7890a8"/>
<text x="1066.4" y="62.9" textLength="23.6" lengthAdjust="spacingAndGlyphs" style="fill:#fff">51.395</text>
</svg>
</body></html>
